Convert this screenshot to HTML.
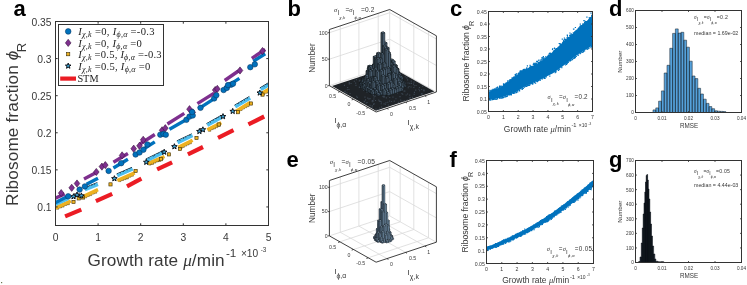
<!DOCTYPE html>
<html><head><meta charset="utf-8"><style>
html,body{margin:0;padding:0;background:#fff;width:747px;height:285px;overflow:hidden}
svg{display:block;will-change:transform}
.s{font-family:'Liberation Sans',sans-serif;fill:#383838}
.r{font-family:'Liberation Serif',serif;fill:#383838}
.b{font-family:'Liberation Sans',sans-serif;font-weight:bold;fill:#000}
.mc{fill:#0072BD;stroke:#0b3b66;stroke-width:.6}
.md{fill:#7E2F8E;stroke:#3b1442;stroke-width:.6}
.ms{fill:#EDB120;stroke:#3a2a00;stroke-width:.6}
.mt{fill:#3fa6d6;stroke:#050a10;stroke-width:.95;stroke-linejoin:miter}
.k{fill:#4c6072;stroke:#0e1114;stroke-width:.45}
.kl{fill:#3b4a57;stroke:#0e1114;stroke-width:.45}
.kt{fill:#5c7387;stroke:#0e1114;stroke-width:.45}
.e{fill:#6a859c;stroke:#151a1f;stroke-width:.35}
.el{fill:#4d6275;stroke:#151a1f;stroke-width:.35}
.et{fill:#8ea8bd;stroke:#151a1f;stroke-width:.35}
</style></head><body>
<svg width="747" height="285" viewBox="0 0 747 285">
<rect width="747" height="285" fill="#fff"/>
<text class="b" x="13.5" y="16" font-size="22">a</text>
<text class="b" x="287.5" y="15.8" font-size="22">b</text>
<text class="b" x="450" y="15.6" font-size="22">c</text>
<text class="b" x="609" y="15.8" font-size="22">d</text>
<text class="b" x="286.5" y="167.3" font-size="22">e</text>
<text class="b" x="449.5" y="166.6" font-size="22">f</text>
<text class="b" x="609" y="167.3" font-size="22">g</text>
<clipPath id="ca"><rect x="56" y="22" width="212" height="203"/></clipPath>
<g clip-path="url(#ca)">
<path d="M65.1 216.4L81.3 209.6M95.9 201.2L112.2 193.9M127 186.3L141.4 178.6M157.1 169.4L172.1 162.3M187.9 154.4L203 147M218 137.8L233.5 130.2M248.4 124.4L264.2 116.5" stroke="#EB1C24" stroke-width="4.2"/>
<path d="M54.2 202.8L67.4 196.7M84.2 187.9L97.3 182.6M116.6 174L132 167.3M145.7 159.1L163.2 150.6M176.8 140.9L191.8 133.8M206.4 123.7L220.4 115.8M234.4 105.3L249.3 96.5M259.8 88L268 83" stroke="#0d2233" stroke-width="1.0"/>
<path d="M56.4 206.8h2.4v2.4h-2.4zM59.1 205.5h2.4v2.4h-2.4zM61.7 204.7h2.4v2.4h-2.4zM64.3 203.1h2.4v2.4h-2.4zM67 202.3h2.4v2.4h-2.4zM84.4 195.4h2.4v2.4h-2.4zM86.9 194h2.4v2.4h-2.4zM89.3 193.2h2.4v2.4h-2.4zM91.8 191.7h2.4v2.4h-2.4zM94.3 190.8h2.4v2.4h-2.4zM118.6 179.2h2.4v2.4h-2.4zM121.1 178.1h2.4v2.4h-2.4zM123.6 177.2h2.4v2.4h-2.4zM126 176.5h2.4v2.4h-2.4zM128.5 174.8h2.4v2.4h-2.4zM131 173.8h2.4v2.4h-2.4zM148.6 162.7h2.4v2.4h-2.4zM151.1 162h2.4v2.4h-2.4zM153.5 160.7h2.4v2.4h-2.4zM156 159.5h2.4v2.4h-2.4zM158.4 159h2.4v2.4h-2.4zM160.9 157.2h2.4v2.4h-2.4zM179.6 146.6h2.4v2.4h-2.4zM181.9 145h2.4v2.4h-2.4zM184.3 143.7h2.4v2.4h-2.4zM186.7 142.5h2.4v2.4h-2.4zM189 141.4h2.4v2.4h-2.4zM208.4 128.9h2.4v2.4h-2.4zM210.8 127.2h2.4v2.4h-2.4zM213.1 126.4h2.4v2.4h-2.4zM215.4 125.2h2.4v2.4h-2.4zM217.8 123.9h2.4v2.4h-2.4zM237.3 110h2.4v2.4h-2.4zM239.7 108.1h2.4v2.4h-2.4zM242 106.6h2.4v2.4h-2.4zM244.3 105.3h2.4v2.4h-2.4zM246.7 104.2h2.4v2.4h-2.4zM262.3 92.4h2.4v2.4h-2.4zM265.1 90.8h2.4v2.4h-2.4z" fill="#EDB120" stroke="#3a2a00" stroke-width="0.45"/>
<path d="M55 208L70.8 201M83.1 196.6L98 189.6M117.3 180.5L134.7 172.8M147.4 163.5L164.5 156.5M178.4 147.4L192.6 140.3M207.3 129.7L221.3 122.7M236.2 111.3L250.2 102.5M260.8 94L269 89.2" stroke="#EDB120" stroke-width="3.5"/>
<path d="M55 204.5L68.2 198.4M84.9 189.6L98 184.3M117.3 175.7L132.7 169M146.5 160.8L164 152.3M177.6 142.6L192.6 135.5M207.3 125.3L221.3 117.4M235.3 106.9L250.2 98.1M260.8 89.6L269 84.6" stroke="#4DBEEE" stroke-width="3.4"/>
<path d="M57.9 201.8l0.6 -1.1l0.6 1.1zM60.9 200.4l0.6 -1.1l0.6 1.1zM63.9 199l0.6 -1.1l0.6 1.1zM88.2 186.9l0.6 -1.1l0.6 1.1zM91.2 185.7l0.6 -1.1l0.6 1.1zM93.6 184.7l0.6 -1.1l0.6 1.1zM119.9 173.2l0.6 -1.1l0.6 1.1zM122.9 171.9l0.6 -1.1l0.6 1.1zM126.6 170.3l0.6 -1.1l0.6 1.1zM129.4 169.1l0.6 -1.1l0.6 1.1zM148.4 158.5l0.6 -1.1l0.6 1.1zM152.6 156.5l0.6 -1.1l0.6 1.1zM154 155.8l0.6 -1.1l0.6 1.1zM157.4 154.1l0.6 -1.1l0.6 1.1zM160.9 152.4l0.6 -1.1l0.6 1.1zM179.4 140.4l0.6 -1.1l0.6 1.1zM183 138.7l0.6 -1.1l0.6 1.1zM185.2 137.6l0.6 -1.1l0.6 1.1zM189.3 135.7l0.6 -1.1l0.6 1.1zM209.9 122.4l0.6 -1.1l0.6 1.1zM212.4 121l0.6 -1.1l0.6 1.1zM215.7 119.1l0.6 -1.1l0.6 1.1zM217.6 118.1l0.6 -1.1l0.6 1.1zM238 103.8l0.6 -1.1l0.6 1.1zM240.8 102.2l0.6 -1.1l0.6 1.1zM243.8 100.4l0.6 -1.1l0.6 1.1zM246.5 98.8l0.6 -1.1l0.6 1.1zM263.5 86.5l0.6 -1.1l0.6 1.1zM266.4 84.7l0.6 -1.1l0.6 1.1z" fill="#0d2233"/>
<rect x="71.9" y="200.3" width="3.2" height="3.2" class="ms"/>
<rect x="77.1" y="196.8" width="3.2" height="3.2" class="ms"/>
<rect x="81.5" y="195.9" width="3.2" height="3.2" class="ms"/>
<rect x="108.9" y="182.8" width="3.2" height="3.2" class="ms"/>
<rect x="134" y="169.3" width="3.2" height="3.2" class="ms"/>
<rect x="159.4" y="157.6" width="3.2" height="3.2" class="ms"/>
<rect x="167.3" y="152.8" width="3.2" height="3.2" class="ms"/>
<rect x="178.4" y="147.3" width="3.2" height="3.2" class="ms"/>
<rect x="194.9" y="136.3" width="3.2" height="3.2" class="ms"/>
<rect x="217.1" y="122.9" width="3.2" height="3.2" class="ms"/>
<rect x="236.3" y="110.6" width="3.2" height="3.2" class="ms"/>
<rect x="249.4" y="101.9" width="3.2" height="3.2" class="ms"/>
<rect x="260.9" y="93" width="3.2" height="3.2" class="ms"/>
<path d="M73.5 193.7L74.2 195.6L76.3 195.7L74.7 197L75.2 198.9L73.5 197.8L71.8 198.9L72.3 197L70.7 195.7L72.8 195.6Z" class="mt"/>
<path d="M77 192L77.7 193.9L79.8 194L78.2 195.3L78.7 197.2L77 196.1L75.3 197.2L75.8 195.3L74.2 194L76.3 193.9Z" class="mt"/>
<path d="M81.4 192.9L82.1 194.8L84.2 194.9L82.6 196.2L83.1 198.1L81.4 197L79.7 198.1L80.2 196.2L78.6 194.9L80.7 194.8Z" class="mt"/>
<path d="M114.4 175.7L115.1 177.6L117.2 177.7L115.6 179L116.1 180.9L114.4 179.8L112.7 180.9L113.2 179L111.6 177.7L113.7 177.6Z" class="mt"/>
<path d="M146.3 159.3L147 161.2L149.1 161.3L147.5 162.6L148 164.5L146.3 163.4L144.6 164.5L145.1 162.6L143.5 161.3L145.6 161.2Z" class="mt"/>
<path d="M164.2 149.2L164.9 151.1L167 151.2L165.4 152.5L165.9 154.4L164.2 153.3L162.5 154.4L163 152.5L161.4 151.2L163.5 151.1Z" class="mt"/>
<path d="M174.4 143.7L175.1 145.6L177.2 145.7L175.6 147L176.1 148.9L174.4 147.8L172.7 148.9L173.2 147L171.6 145.7L173.7 145.6Z" class="mt"/>
<path d="M199.4 128.5L200.1 130.4L202.2 130.5L200.6 131.8L201.1 133.7L199.4 132.6L197.7 133.7L198.2 131.8L196.6 130.5L198.7 130.4Z" class="mt"/>
<path d="M202.9 126.8L203.6 128.7L205.7 128.8L204.1 130.1L204.6 132L202.9 130.9L201.2 132L201.7 130.1L200.1 128.8L202.2 128.7Z" class="mt"/>
<path d="M223 113.6L223.7 115.5L225.8 115.6L224.2 116.9L224.7 118.8L223 117.7L221.3 118.8L221.8 116.9L220.2 115.6L222.3 115.5Z" class="mt"/>
<path d="M232.7 108.4L233.4 110.3L235.5 110.4L233.9 111.7L234.4 113.6L232.7 112.5L231 113.6L231.5 111.7L229.9 110.4L232 110.3Z" class="mt"/>
<path d="M259.8 90L260.5 91.9L262.6 92L261 93.3L261.5 95.2L259.8 94.1L258.1 95.2L258.6 93.3L257 92L259.1 91.9Z" class="mt"/>
<path d="M55 202.8L67.3 196.6M86.6 184.3L98 178.2M113.4 168L127.9 159.3M143.2 149.3L154.8 141.9M169.5 129.2L184.3 120.8M198.4 108.9L213.1 99.4M224.7 87.9L239.4 78.4M253.3 61.3L265.2 53.8" stroke="#0072BD" stroke-width="3.4"/>
<path d="M55 198.4L64.7 194M84 179L97.2 172M113.4 162.2L127.9 153.5M140 144L154.8 134.5M167.4 124L184.3 113.4M197.4 103.6L214.2 93.1M224.7 80.5L238.4 71M251.8 58.3L265.2 49.4" stroke="#7E2F8E" stroke-width="3.4"/>
<path d="M61.2 189.5l2.8 3.6l-2.8 3.6l-2.8 -3.6z" class="md"/>
<path d="M71.7 184.2l2.8 3.6l-2.8 3.6l-2.8 -3.6z" class="md"/>
<path d="M77 179.9l2.8 3.6l-2.8 3.6l-2.8 -3.6z" class="md"/>
<path d="M96.3 168.4l2.8 3.6l-2.8 3.6l-2.8 -3.6z" class="md"/>
<path d="M101.9 163l2.8 3.6l-2.8 3.6l-2.8 -3.6z" class="md"/>
<path d="M105.3 161.5l2.8 3.6l-2.8 3.6l-2.8 -3.6z" class="md"/>
<path d="M122.1 151.8l2.8 3.6l-2.8 3.6l-2.8 -3.6z" class="md"/>
<path d="M133.7 145.1l2.8 3.6l-2.8 3.6l-2.8 -3.6z" class="md"/>
<path d="M139.5 142.2l2.8 3.6l-2.8 3.6l-2.8 -3.6z" class="md"/>
<path d="M143.2 136.2l2.8 3.6l-2.8 3.6l-2.8 -3.6z" class="md"/>
<path d="M162.1 126.7l2.8 3.6l-2.8 3.6l-2.8 -3.6z" class="md"/>
<path d="M165.3 124.6l2.8 3.6l-2.8 3.6l-2.8 -3.6z" class="md"/>
<path d="M189.5 105.6l2.8 3.6l-2.8 3.6l-2.8 -3.6z" class="md"/>
<path d="M192.7 108.8l2.8 3.6l-2.8 3.6l-2.8 -3.6z" class="md"/>
<path d="M215.2 86.4l2.8 3.6l-2.8 3.6l-2.8 -3.6z" class="md"/>
<path d="M217.3 85.3l2.8 3.6l-2.8 3.6l-2.8 -3.6z" class="md"/>
<path d="M240 66.9l2.8 3.6l-2.8 3.6l-2.8 -3.6z" class="md"/>
<path d="M262.5 47.4l2.8 3.6l-2.8 3.6l-2.8 -3.6z" class="md"/>
<circle cx="68.2" cy="196.3" r="2.75" class="mc"/>
<circle cx="79.6" cy="189.6" r="2.75" class="mc"/>
<circle cx="84.9" cy="186.4" r="2.75" class="mc"/>
<circle cx="108.6" cy="170.9" r="2.75" class="mc"/>
<circle cx="121.2" cy="163.2" r="2.75" class="mc"/>
<circle cx="135.6" cy="154.5" r="2.75" class="mc"/>
<circle cx="139.5" cy="152.5" r="2.75" class="mc"/>
<circle cx="143.4" cy="149.7" r="2.75" class="mc"/>
<circle cx="147.4" cy="144.5" r="2.75" class="mc"/>
<circle cx="160.3" cy="134.7" r="2.75" class="mc"/>
<circle cx="163.4" cy="133.9" r="2.75" class="mc"/>
<circle cx="165.8" cy="134.7" r="2.75" class="mc"/>
<circle cx="186.4" cy="119.8" r="2.75" class="mc"/>
<circle cx="189.5" cy="116.6" r="2.75" class="mc"/>
<circle cx="192.7" cy="115.5" r="2.75" class="mc"/>
<circle cx="192.1" cy="112" r="2.75" class="mc"/>
<circle cx="200.5" cy="107.8" r="2.75" class="mc"/>
<circle cx="214.2" cy="98.4" r="2.75" class="mc"/>
<circle cx="216.3" cy="95.2" r="2.75" class="mc"/>
<circle cx="223.6" cy="90" r="2.75" class="mc"/>
<circle cx="226.8" cy="87.9" r="2.75" class="mc"/>
<circle cx="231" cy="84.7" r="2.75" class="mc"/>
<circle cx="233" cy="83.7" r="2.75" class="mc"/>
<circle cx="228" cy="85.1" r="2.75" class="mc"/>
<circle cx="250.3" cy="67.2" r="2.75" class="mc"/>
<circle cx="254.8" cy="64.3" r="2.75" class="mc"/>
</g>
<rect x="55.5" y="21.5" width="213" height="204" fill="none" stroke="#333333"/>
<path d="M55.5 225.5v-2.2M55.5 21.5v2.2M98.1 225.5v-2.2M98.1 21.5v2.2M140.7 225.5v-2.2M140.7 21.5v2.2M183.3 225.5v-2.2M183.3 21.5v2.2M225.9 225.5v-2.2M225.9 21.5v2.2M268.5 225.5v-2.2M268.5 21.5v2.2M55.5 206.95h2.2M268.5 206.95h-2.2M55.5 169.86h2.2M268.5 169.86h-2.2M55.5 132.77h2.2M268.5 132.77h-2.2M55.5 95.68h2.2M268.5 95.68h-2.2M55.5 58.59h2.2M268.5 58.59h-2.2M55.5 21.5h2.2M268.5 21.5h-2.2" stroke="#333333" stroke-width="1"/>
<text class="s" x="55.5" y="240.7" font-size="10.3" text-anchor="middle">0</text>
<text class="s" x="98.1" y="240.7" font-size="10.3" text-anchor="middle">1</text>
<text class="s" x="140.7" y="240.7" font-size="10.3" text-anchor="middle">2</text>
<text class="s" x="183.3" y="240.7" font-size="10.3" text-anchor="middle">3</text>
<text class="s" x="225.9" y="240.7" font-size="10.3" text-anchor="middle">4</text>
<text class="s" x="268.5" y="240.7" font-size="10.3" text-anchor="middle">5</text>
<text class="s" x="51.5" y="211.28" font-size="10.3" text-anchor="end">0.1</text>
<text class="s" x="51.5" y="174.19" font-size="10.3" text-anchor="end">0.15</text>
<text class="s" x="51.5" y="137.1" font-size="10.3" text-anchor="end">0.2</text>
<text class="s" x="51.5" y="100.01" font-size="10.3" text-anchor="end">0.25</text>
<text class="s" x="51.5" y="62.92" font-size="10.3" text-anchor="end">0.3</text>
<text class="s" x="51.5" y="25.83" font-size="10.3" text-anchor="end">0.35</text>
<rect x="58.5" y="24.5" width="105" height="61" fill="#fff" stroke="#333333"/>
<circle cx="68.2" cy="31.4" r="2.8" class="mc"/>
<path d="M68.2 39.3l2.8 3.6l-2.8 3.6l-2.8 -3.6z" class="md"/>
<rect x="66.6" y="52.6" width="3.2" height="3.2" class="ms"/>
<path d="M68.2 63.1L68.9 65L71 65.1L69.4 66.4L69.9 68.3L68.2 67.2L66.5 68.3L67 66.4L65.4 65.1L67.5 65Z" class="mt"/>
<path d="M60.2 78.6L76 78.6" stroke="#EB1C24" stroke-width="4.2"/>
<text class="r" x="78.2" y="35" font-size="10.6" textLength="76.3" style="fill:#1c1c1c"><tspan font-style="italic">I</tspan><tspan font-size="8" dy="2.2" font-style="italic">χ,k</tspan><tspan dy="-2.2"> =</tspan>0, <tspan font-style="italic">I</tspan><tspan font-size="8" dy="2.2" font-style="italic">ϕ,α</tspan><tspan dy="-2.2"> =</tspan>-0.3</text>
<text class="r" x="78.2" y="46.5" font-size="10.6" textLength="63.6" style="fill:#1c1c1c"><tspan font-style="italic">I</tspan><tspan font-size="8" dy="2.2" font-style="italic">χ,k</tspan><tspan dy="-2.2"> =</tspan>0, <tspan font-style="italic">I</tspan><tspan font-size="8" dy="2.2" font-style="italic">ϕ,α</tspan><tspan dy="-2.2"> =</tspan>0</text>
<text class="r" x="78.2" y="57.8" font-size="10.6" textLength="83.4" style="fill:#1c1c1c"><tspan font-style="italic">I</tspan><tspan font-size="8" dy="2.2" font-style="italic">χ,k</tspan><tspan dy="-2.2"> =</tspan>0.5, <tspan font-style="italic">I</tspan><tspan font-size="8" dy="2.2" font-style="italic">ϕ,α</tspan><tspan dy="-2.2"> =</tspan>-0.3</text>
<text class="r" x="78.2" y="69.6" font-size="10.6" textLength="72" style="fill:#1c1c1c"><tspan font-style="italic">I</tspan><tspan font-size="8" dy="2.2" font-style="italic">χ,k</tspan><tspan dy="-2.2"> =</tspan>0.5, <tspan font-style="italic">I</tspan><tspan font-size="8" dy="2.2" font-style="italic">ϕ,α</tspan><tspan dy="-2.2"> =</tspan>0</text>
<text class="r" x="77.4" y="81.5" font-size="10.3" style="fill:#1c1c1c">STM</text>
<text class="s" transform="translate(17.6,205.9) rotate(-90)" font-size="17.2" textLength="163">Ribosome fraction <tspan font-style="italic">ϕ</tspan><tspan font-size="13" dy="8.2" dx="-1.8">R</tspan></text>
<text class="s" x="87.5" y="266" font-size="17.2" textLength="137.1">Growth rate <tspan class="r" font-style="italic">μ</tspan>/min</text>
<text class="s" x="225.9" y="256.6" font-size="11.7">-1</text>
<text class="s" x="240.9" y="256.6" font-size="10.2">×10</text>
<text class="s" x="260.7" y="252.4" font-size="6.3">-3</text>
<clipPath id="cc"><rect x="489.0" y="12.0" width="103.0" height="99.0"/></clipPath>
<g clip-path="url(#cc)">
<path d="M488 92.3L500.8 87.2L515.5 76.5L520 72.8L527 68.5L534 65.5L541 61.3L548 55.8L555 50L563 42L571 35.5L579 27.6L587 21.2L593 14.5L593 45.5L590 47L577 55L565 64.5L553 73.2L539 80.2L525 86.5L515.5 92.5L500.8 97.8L488 100.3Z" fill="#0072BD" stroke="none" stroke-width="1"/>
<path d="M537.8 62.1h1.2v1.2h-1.2zM561.7 38.6h1.2v1.2h-1.2zM574.3 31.2h1.2v1.2h-1.2zM490.4 90.5h1.2v1.2h-1.2zM505.6 82.2h1.2v1.2h-1.2zM501.6 86.1h1.2v1.2h-1.2zM529 84.4h1.2v1.2h-1.2zM545.7 76.3h1.2v1.2h-1.2zM574 56.6h1.2v1.2h-1.2zM525.7 85.9h1.2v1.2h-1.2zM588.6 19.2h1.2v1.2h-1.2zM512.5 78.1h1.2v1.2h-1.2zM549.9 53.3h1.2v1.2h-1.2zM526.8 65.3h1.2v1.2h-1.2zM560.5 44.5h1.2v1.2h-1.2zM552.8 50.6h1.2v1.2h-1.2zM582.5 51.5h1.2v1.2h-1.2zM529.2 66.4h1.2v1.2h-1.2zM498.9 86.9h1.2v1.2h-1.2zM495.1 89.1h1.2v1.2h-1.2zM493.5 89.4h1.2v1.2h-1.2zM503.9 84.8h1.2v1.2h-1.2zM579.8 25.3h1.2v1.2h-1.2zM514.5 77.1h1.2v1.2h-1.2zM526.2 67.3h1.2v1.2h-1.2zM536.9 61.4h1.2v1.2h-1.2zM497 88.3h1.2v1.2h-1.2zM575 30.9h1.2v1.2h-1.2zM490.4 99.3h1.2v1.2h-1.2zM545 58h1.2v1.2h-1.2zM543.5 77.7h1.2v1.2h-1.2zM515.4 75.5h1.2v1.2h-1.2zM505.5 96.1h1.2v1.2h-1.2zM522.6 70.9h1.2v1.2h-1.2zM573.2 57.7h1.2v1.2h-1.2zM573.9 57.4h1.2v1.2h-1.2zM511.8 79.1h1.2v1.2h-1.2zM490.9 91h1.2v1.2h-1.2zM515.2 73.8h1.2v1.2h-1.2zM535 82.5h1.2v1.2h-1.2zM526.3 68.8h1.2v1.2h-1.2zM511.8 78.8h1.2v1.2h-1.2zM582.5 51.5h1.2v1.2h-1.2zM538.3 59.6h1.2v1.2h-1.2zM496.9 86.5h1.2v1.2h-1.2zM570.1 59.9h1.2v1.2h-1.2zM570.9 35.5h1.2v1.2h-1.2zM572.1 58.5h1.2v1.2h-1.2zM587.4 48.1h1.2v1.2h-1.2zM505.9 82.4h1.2v1.2h-1.2zM572.7 32.3h1.2v1.2h-1.2zM574.8 56.2h1.2v1.2h-1.2zM545.6 57h1.2v1.2h-1.2zM489.5 99.6h1.2v1.2h-1.2zM586 21.1h1.2v1.2h-1.2zM579.5 52.7h1.2v1.2h-1.2zM518.8 73.2h1.2v1.2h-1.2zM549.6 54.1h1.2v1.2h-1.2zM583.6 23.7h1.2v1.2h-1.2zM536.1 60.7h1.2v1.2h-1.2zM532.2 83.1h1.2v1.2h-1.2zM543 59.7h1.2v1.2h-1.2zM534.2 63.8h1.2v1.2h-1.2zM506.1 83.3h1.2v1.2h-1.2zM564.1 38.8h1.2v1.2h-1.2zM542.4 56.8h1.2v1.2h-1.2zM499.1 86.5h1.2v1.2h-1.2zM517.1 91.3h1.2v1.2h-1.2zM567.8 61.5h1.2v1.2h-1.2zM534.5 62.8h1.2v1.2h-1.2zM541.8 58.3h1.2v1.2h-1.2zM544 57.6h1.2v1.2h-1.2zM580 52.6h1.2v1.2h-1.2zM515.3 73.8h1.2v1.2h-1.2zM576.2 29.7h1.2v1.2h-1.2zM495.6 88.6h1.2v1.2h-1.2zM495.7 87.2h1.2v1.2h-1.2zM582.2 24.8h1.2v1.2h-1.2zM503 96.9h1.2v1.2h-1.2zM589.6 17.4h1.2v1.2h-1.2zM539.2 79.5h1.2v1.2h-1.2zM575.4 30.2h1.2v1.2h-1.2zM523.6 70.1h1.2v1.2h-1.2zM521.4 88.6h1.2v1.2h-1.2zM534.2 65.2h1.2v1.2h-1.2zM522.8 68.9h1.2v1.2h-1.2zM494.8 98.5h1.2v1.2h-1.2zM499 85.6h1.2v1.2h-1.2zM492.2 98.7h1.2v1.2h-1.2zM532.3 82.7h1.2v1.2h-1.2zM574 31.4h1.2v1.2h-1.2zM547.9 54.6h1.2v1.2h-1.2zM494 88.4h1.2v1.2h-1.2zM495.6 98.9h1.2v1.2h-1.2zM554.6 72.1h1.2v1.2h-1.2zM495 98.6h1.2v1.2h-1.2zM535.6 62.6h1.2v1.2h-1.2zM516.1 75.3h1.2v1.2h-1.2zM543.3 59.1h1.2v1.2h-1.2zM493.3 89.9h1.2v1.2h-1.2zM520.8 72.3h1.2v1.2h-1.2zM540.5 60.9h1.2v1.2h-1.2zM524.4 70.1h1.2v1.2h-1.2zM565 38.7h1.2v1.2h-1.2zM537.8 80h1.2v1.2h-1.2zM499.2 97.9h1.2v1.2h-1.2zM575.6 30.5h1.2v1.2h-1.2zM541.2 57.2h1.2v1.2h-1.2zM524 86.5h1.2v1.2h-1.2zM530.5 65.8h1.2v1.2h-1.2zM493.7 88.7h1.2v1.2h-1.2zM514.8 76.3h1.2v1.2h-1.2zM496.9 98.3h1.2v1.2h-1.2zM517.6 73.8h1.2v1.2h-1.2zM518.8 73.3h1.2v1.2h-1.2zM515.6 92.1h1.2v1.2h-1.2zM590.1 17.6h1.2v1.2h-1.2zM520.5 70.2h1.2v1.2h-1.2zM488.1 91.2h1.2v1.2h-1.2zM509.1 81h1.2v1.2h-1.2zM488.5 91.3h1.2v1.2h-1.2zM492.4 90.1h1.2v1.2h-1.2zM519.9 71.9h1.2v1.2h-1.2zM566.8 35h1.2v1.2h-1.2zM580.3 26h1.2v1.2h-1.2zM522.2 87.9h1.2v1.2h-1.2zM555.5 48.3h1.2v1.2h-1.2zM575.7 55.8h1.2v1.2h-1.2zM573.3 32.2h1.2v1.2h-1.2zM543 58.9h1.2v1.2h-1.2zM574.8 26.9h1.2v1.2h-1.2zM559.7 43.4h1.2v1.2h-1.2zM491.3 89.6h1.2v1.2h-1.2zM525.9 68.6h1.2v1.2h-1.2zM553.9 47.5h1.2v1.2h-1.2zM539.4 61.3h1.2v1.2h-1.2zM571.8 59h1.2v1.2h-1.2zM557.2 47.8h1.2v1.2h-1.2zM565.4 39.4h1.2v1.2h-1.2zM564.6 40.4h1.2v1.2h-1.2zM565.7 63.7h1.2v1.2h-1.2zM538.3 59.7h1.2v1.2h-1.2zM552.8 50.6h1.2v1.2h-1.2zM503.5 85.2h1.2v1.2h-1.2zM566 39.4h1.2v1.2h-1.2zM494.4 89.7h1.2v1.2h-1.2zM558.6 42.9h1.2v1.2h-1.2zM518.5 73h1.2v1.2h-1.2zM500.4 97.2h1.2v1.2h-1.2zM508.9 94.2h1.2v1.2h-1.2zM536.2 80.7h1.2v1.2h-1.2zM589.7 18.2h1.2v1.2h-1.2zM587.3 20.3h1.2v1.2h-1.2zM549.1 52.7h1.2v1.2h-1.2zM501.9 96.8h1.2v1.2h-1.2zM541.4 78.3h1.2v1.2h-1.2zM582.3 24.4h1.2v1.2h-1.2zM490.6 90.3h1.2v1.2h-1.2zM519.7 73h1.2v1.2h-1.2zM524.1 70.2h1.2v1.2h-1.2zM566.8 62.3h1.2v1.2h-1.2zM500.6 97.3h1.2v1.2h-1.2zM518.4 72.2h1.2v1.2h-1.2zM529.3 84.2h1.2v1.2h-1.2zM532.9 65.5h1.2v1.2h-1.2zM493.1 89.9h1.2v1.2h-1.2zM586.2 21.2h1.2v1.2h-1.2zM515.9 75.8h1.2v1.2h-1.2zM588.4 47.6h1.2v1.2h-1.2zM573.3 28.4h1.2v1.2h-1.2zM586.8 21.3h1.2v1.2h-1.2zM564.9 40.2h1.2v1.2h-1.2zM567 36.6h1.2v1.2h-1.2zM493.1 98.9h1.2v1.2h-1.2zM524.1 69.6h1.2v1.2h-1.2zM565.6 63.3h1.2v1.2h-1.2zM519.6 71.3h1.2v1.2h-1.2zM505.6 82.4h1.2v1.2h-1.2zM509.8 94.1h1.2v1.2h-1.2zM583.2 50.4h1.2v1.2h-1.2zM535.2 64.6h1.2v1.2h-1.2zM523.9 70h1.2v1.2h-1.2zM513.1 76.5h1.2v1.2h-1.2zM566.7 38.2h1.2v1.2h-1.2zM531.5 66h1.2v1.2h-1.2zM494.5 89.1h1.2v1.2h-1.2zM589.6 17h1.2v1.2h-1.2zM578.6 28h1.2v1.2h-1.2zM516.5 74.9h1.2v1.2h-1.2zM588.2 47.6h1.2v1.2h-1.2zM579.7 25.7h1.2v1.2h-1.2zM582 24.9h1.2v1.2h-1.2zM549.7 52.8h1.2v1.2h-1.2zM574.7 56.8h1.2v1.2h-1.2zM590.1 17.4h1.2v1.2h-1.2zM542.8 55.9h1.2v1.2h-1.2zM563.8 37.4h1.2v1.2h-1.2zM536 63.2h1.2v1.2h-1.2zM570.1 35.9h1.2v1.2h-1.2zM584.6 20.7h1.2v1.2h-1.2zM501.4 85.8h1.2v1.2h-1.2zM499.8 86.6h1.2v1.2h-1.2zM543.1 57.5h1.2v1.2h-1.2zM511.5 78.4h1.2v1.2h-1.2zM519.7 71.8h1.2v1.2h-1.2zM580.8 25.8h1.2v1.2h-1.2zM512.7 77.2h1.2v1.2h-1.2zM520.3 72.3h1.2v1.2h-1.2zM540.3 59.4h1.2v1.2h-1.2zM515 74h1.2v1.2h-1.2zM511.8 78.7h1.2v1.2h-1.2zM559.7 44.5h1.2v1.2h-1.2zM571.7 58.7h1.2v1.2h-1.2zM589.8 18h1.2v1.2h-1.2zM574.1 32.2h1.2v1.2h-1.2zM519 90.3h1.2v1.2h-1.2zM540.1 61.7h1.2v1.2h-1.2zM557.9 69.4h1.2v1.2h-1.2zM503.4 84.8h1.2v1.2h-1.2zM502.9 83.3h1.2v1.2h-1.2zM494.3 88.3h1.2v1.2h-1.2zM564.9 64.4h1.2v1.2h-1.2zM585.8 21.3h1.2v1.2h-1.2zM566.4 37.3h1.2v1.2h-1.2zM557.8 46.7h1.2v1.2h-1.2zM505.8 83h1.2v1.2h-1.2zM517.4 74.5h1.2v1.2h-1.2zM589.2 18.6h1.2v1.2h-1.2zM525.4 85.7h1.2v1.2h-1.2zM493.2 89.4h1.2v1.2h-1.2zM527.1 84.9h1.2v1.2h-1.2zM582.2 24.3h1.2v1.2h-1.2zM531.1 83h1.2v1.2h-1.2zM491.7 90.6h1.2v1.2h-1.2zM584.6 23.1h1.2v1.2h-1.2zM523.6 68.7h1.2v1.2h-1.2zM588.6 17.2h1.2v1.2h-1.2zM563.2 41.8h1.2v1.2h-1.2zM567.3 61.9h1.2v1.2h-1.2zM554.6 71.6h1.2v1.2h-1.2zM537.9 80h1.2v1.2h-1.2zM588.2 19.9h1.2v1.2h-1.2zM539.8 79.5h1.2v1.2h-1.2zM507.2 94.8h1.2v1.2h-1.2zM569.1 34.7h1.2v1.2h-1.2zM521.6 70.2h1.2v1.2h-1.2zM570.1 35.7h1.2v1.2h-1.2zM514 76.2h1.2v1.2h-1.2zM491.6 89.5h1.2v1.2h-1.2zM590.9 46.1h1.2v1.2h-1.2zM496.8 88.7h1.2v1.2h-1.2zM540.3 59.4h1.2v1.2h-1.2zM512.6 77.6h1.2v1.2h-1.2zM566.5 63h1.2v1.2h-1.2zM557.8 46.8h1.2v1.2h-1.2zM547.5 55.5h1.2v1.2h-1.2zM565.5 40h1.2v1.2h-1.2zM504.1 96.2h1.2v1.2h-1.2zM548.7 53h1.2v1.2h-1.2zM541.3 59.4h1.2v1.2h-1.2zM572.9 28.4h1.2v1.2h-1.2zM498.7 87.3h1.2v1.2h-1.2zM584 22h1.2v1.2h-1.2zM518.8 72.9h1.2v1.2h-1.2zM549.2 75.5h1.2v1.2h-1.2zM527.1 85.1h1.2v1.2h-1.2zM569.7 60.1h1.2v1.2h-1.2zM499.1 86h1.2v1.2h-1.2zM510.9 79.5h1.2v1.2h-1.2zM514.8 74.7h1.2v1.2h-1.2zM509.4 80.5h1.2v1.2h-1.2zM522.4 69.9h1.2v1.2h-1.2zM520.8 72h1.2v1.2h-1.2zM494.6 88.6h1.2v1.2h-1.2zM529.5 64.8h1.2v1.2h-1.2zM497.6 88.2h1.2v1.2h-1.2zM517.7 73.8h1.2v1.2h-1.2zM588.1 19.2h1.2v1.2h-1.2zM531.7 82.9h1.2v1.2h-1.2zM592.6 14.4h1.2v1.2h-1.2zM509.4 79.6h1.2v1.2h-1.2zM582.7 24.3h1.2v1.2h-1.2zM580.7 25.4h1.2v1.2h-1.2zM505.1 82.9h1.2v1.2h-1.2zM583.5 23.6h1.2v1.2h-1.2zM553.3 50.9h1.2v1.2h-1.2zM517.7 74.6h1.2v1.2h-1.2zM585.2 21h1.2v1.2h-1.2zM589.5 18.3h1.2v1.2h-1.2zM501.3 97.4h1.2v1.2h-1.2zM493.6 98.5h1.2v1.2h-1.2zM528.7 84.7h1.2v1.2h-1.2zM504.8 96.2h1.2v1.2h-1.2zM511.3 78.6h1.2v1.2h-1.2zM507.2 81.1h1.2v1.2h-1.2zM530 66.9h1.2v1.2h-1.2zM513.9 92.4h1.2v1.2h-1.2zM582.2 23.6h1.2v1.2h-1.2zM492 99h1.2v1.2h-1.2zM500.4 85.6h1.2v1.2h-1.2zM553.8 49.9h1.2v1.2h-1.2zM532.7 63.8h1.2v1.2h-1.2zM534 64.9h1.2v1.2h-1.2zM553 51.5h1.2v1.2h-1.2zM569.9 34.9h1.2v1.2h-1.2zM506.9 82.4h1.2v1.2h-1.2zM533.2 65.5h1.2v1.2h-1.2zM534.4 64h1.2v1.2h-1.2zM496.6 98h1.2v1.2h-1.2zM569.7 35.6h1.2v1.2h-1.2zM527.7 84.7h1.2v1.2h-1.2zM502.3 97.3h1.2v1.2h-1.2zM573.6 32.9h1.2v1.2h-1.2zM591.1 14.7h1.2v1.2h-1.2zM505.3 95.7h1.2v1.2h-1.2zM585.7 21.3h1.2v1.2h-1.2zM504.7 96.3h1.2v1.2h-1.2zM516.9 91.2h1.2v1.2h-1.2zM584.6 22.3h1.2v1.2h-1.2zM515.6 76.3h1.2v1.2h-1.2zM507.1 82.4h1.2v1.2h-1.2zM586.3 16.5h1.2v1.2h-1.2zM505.7 95.7h1.2v1.2h-1.2zM554.8 49.4h1.2v1.2h-1.2zM579.7 23.5h1.2v1.2h-1.2zM580.7 25h1.2v1.2h-1.2zM529.4 83.8h1.2v1.2h-1.2zM515.8 91.9h1.2v1.2h-1.2zM568.3 37.3h1.2v1.2h-1.2zM506.6 95.8h1.2v1.2h-1.2zM514.6 74.1h1.2v1.2h-1.2zM549.5 52.5h1.2v1.2h-1.2zM488.2 91.7h1.2v1.2h-1.2zM503.7 83.4h1.2v1.2h-1.2zM541.8 78.2h1.2v1.2h-1.2zM556.6 47.9h1.2v1.2h-1.2zM488.3 91.5h1.2v1.2h-1.2zM511.5 77.3h1.2v1.2h-1.2zM509.4 79h1.2v1.2h-1.2zM502.1 96.8h1.2v1.2h-1.2zM513.6 76.8h1.2v1.2h-1.2zM579.5 53.1h1.2v1.2h-1.2zM530.2 65.8h1.2v1.2h-1.2zM547 56.5h1.2v1.2h-1.2zM555.8 47.9h1.2v1.2h-1.2zM514.1 92.5h1.2v1.2h-1.2zM492.6 89.9h1.2v1.2h-1.2zM494.1 98.5h1.2v1.2h-1.2zM489.3 89.8h1.2v1.2h-1.2zM502.9 84.8h1.2v1.2h-1.2zM555.4 71.1h1.2v1.2h-1.2zM506.3 83.1h1.2v1.2h-1.2zM581.4 51.7h1.2v1.2h-1.2zM563.1 41.1h1.2v1.2h-1.2zM536.9 81.1h1.2v1.2h-1.2zM535.5 64.1h1.2v1.2h-1.2zM492.1 90.3h1.2v1.2h-1.2zM566.7 34.6h1.2v1.2h-1.2zM562.7 41.4h1.2v1.2h-1.2zM570.8 35.4h1.2v1.2h-1.2zM515.9 73.2h1.2v1.2h-1.2zM510.8 93.8h1.2v1.2h-1.2zM512.8 92.7h1.2v1.2h-1.2zM587.2 48.4h1.2v1.2h-1.2zM522.5 69.6h1.2v1.2h-1.2zM583.3 20h1.2v1.2h-1.2zM557.8 69.8h1.2v1.2h-1.2zM561.2 66.6h1.2v1.2h-1.2zM533.9 82.1h1.2v1.2h-1.2zM510.3 79.2h1.2v1.2h-1.2zM583.6 23.6h1.2v1.2h-1.2zM490.8 90.4h1.2v1.2h-1.2zM502.9 85.3h1.2v1.2h-1.2zM492.4 88.8h1.2v1.2h-1.2zM561.2 67.1h1.2v1.2h-1.2zM526.2 85.4h1.2v1.2h-1.2zM574.1 57.5h1.2v1.2h-1.2zM584 50.3h1.2v1.2h-1.2zM499.2 87.6h1.2v1.2h-1.2zM577 54.3h1.2v1.2h-1.2zM554.6 71.5h1.2v1.2h-1.2zM498.5 87.6h1.2v1.2h-1.2zM567.5 37.9h1.2v1.2h-1.2zM490.2 90.6h1.2v1.2h-1.2zM517.7 72.9h1.2v1.2h-1.2zM521.7 88.8h1.2v1.2h-1.2zM552.9 51.7h1.2v1.2h-1.2zM531.4 66.5h1.2v1.2h-1.2zM562 42.2h1.2v1.2h-1.2zM510.7 94.2h1.2v1.2h-1.2zM505.9 82.6h1.2v1.2h-1.2zM509.2 94h1.2v1.2h-1.2zM539.5 62.2h1.2v1.2h-1.2zM571.7 34h1.2v1.2h-1.2zM575.3 31.2h1.2v1.2h-1.2zM587.1 20.8h1.2v1.2h-1.2zM540.3 60.3h1.2v1.2h-1.2zM554.8 49.8h1.2v1.2h-1.2zM570.6 33.3h1.2v1.2h-1.2zM530.1 65.8h1.2v1.2h-1.2zM581.5 25.5h1.2v1.2h-1.2zM509.6 80.6h1.2v1.2h-1.2zM582.6 23.3h1.2v1.2h-1.2zM512.5 77.4h1.2v1.2h-1.2zM543.8 77h1.2v1.2h-1.2zM524.6 68.7h1.2v1.2h-1.2zM504.3 96.2h1.2v1.2h-1.2zM505.8 82.3h1.2v1.2h-1.2zM569.2 35.4h1.2v1.2h-1.2zM536.5 80.5h1.2v1.2h-1.2zM519.7 70.2h1.2v1.2h-1.2zM504.2 84.1h1.2v1.2h-1.2zM514 77.1h1.2v1.2h-1.2zM522.4 71.2h1.2v1.2h-1.2zM590.4 47h1.2v1.2h-1.2zM498.7 86.7h1.2v1.2h-1.2zM591.3 45.6h1.2v1.2h-1.2zM508.6 80.3h1.2v1.2h-1.2zM509.7 79.8h1.2v1.2h-1.2zM491.6 90.5h1.2v1.2h-1.2zM540.6 59.2h1.2v1.2h-1.2zM502.9 84h1.2v1.2h-1.2zM565.8 63.8h1.2v1.2h-1.2zM533.2 62.8h1.2v1.2h-1.2zM532.2 65.9h1.2v1.2h-1.2zM569.3 32.4h1.2v1.2h-1.2zM559.4 43h1.2v1.2h-1.2zM520.9 71h1.2v1.2h-1.2zM532.1 83.5h1.2v1.2h-1.2zM562.9 40.2h1.2v1.2h-1.2zM532.5 65.5h1.2v1.2h-1.2zM558.9 68.5h1.2v1.2h-1.2zM507.2 80.2h1.2v1.2h-1.2zM528.8 67.5h1.2v1.2h-1.2zM545.1 58.1h1.2v1.2h-1.2zM570.1 59.9h1.2v1.2h-1.2zM548.3 55.5h1.2v1.2h-1.2zM563.3 40.7h1.2v1.2h-1.2zM542.8 58.6h1.2v1.2h-1.2zM587.5 20.2h1.2v1.2h-1.2zM568.1 37h1.2v1.2h-1.2zM591.4 15.6h1.2v1.2h-1.2zM530 67h1.2v1.2h-1.2zM532 66.1h1.2v1.2h-1.2zM515.8 75.4h1.2v1.2h-1.2zM565.9 63.4h1.2v1.2h-1.2zM572.2 34.3h1.2v1.2h-1.2zM510.3 80h1.2v1.2h-1.2zM554.6 48.7h1.2v1.2h-1.2zM547 55.8h1.2v1.2h-1.2zM555.1 71h1.2v1.2h-1.2zM573.7 32.5h1.2v1.2h-1.2zM501.1 97.5h1.2v1.2h-1.2zM525.2 85.6h1.2v1.2h-1.2zM514.6 76.3h1.2v1.2h-1.2zM507.5 82.2h1.2v1.2h-1.2zM513.7 77.1h1.2v1.2h-1.2zM538.4 62h1.2v1.2h-1.2zM526.1 85.8h1.2v1.2h-1.2zM577.7 27.9h1.2v1.2h-1.2zM570.3 34.3h1.2v1.2h-1.2zM575.3 30.2h1.2v1.2h-1.2zM489.2 99.5h1.2v1.2h-1.2zM498.7 87.5h1.2v1.2h-1.2zM512.5 92.9h1.2v1.2h-1.2zM582.9 50.8h1.2v1.2h-1.2zM505.6 95.9h1.2v1.2h-1.2zM558.2 69.2h1.2v1.2h-1.2zM570.7 59.4h1.2v1.2h-1.2zM543.7 77.8h1.2v1.2h-1.2zM534.1 82h1.2v1.2h-1.2zM512.6 78.4h1.2v1.2h-1.2zM539.8 61.5h1.2v1.2h-1.2zM539.6 62h1.2v1.2h-1.2zM544.7 77.5h1.2v1.2h-1.2zM537.1 60.7h1.2v1.2h-1.2zM576.3 30.2h1.2v1.2h-1.2zM532 83.2h1.2v1.2h-1.2zM554.8 49.6h1.2v1.2h-1.2zM552 48.3h1.2v1.2h-1.2zM522.7 87.7h1.2v1.2h-1.2zM582.2 24.9h1.2v1.2h-1.2zM563.4 39.4h1.2v1.2h-1.2zM578.5 27h1.2v1.2h-1.2zM568.9 37h1.2v1.2h-1.2zM533.7 64h1.2v1.2h-1.2zM518.8 90h1.2v1.2h-1.2zM530.4 66.9h1.2v1.2h-1.2zM590.4 12.6h1.2v1.2h-1.2zM522.7 70.1h1.2v1.2h-1.2zM519.4 70.9h1.2v1.2h-1.2zM570.3 35.7h1.2v1.2h-1.2zM545.3 56.1h1.2v1.2h-1.2zM519.5 72.4h1.2v1.2h-1.2zM551.9 48.8h1.2v1.2h-1.2zM583.5 20.1h1.2v1.2h-1.2zM553.8 47.9h1.2v1.2h-1.2zM559.5 43.6h1.2v1.2h-1.2zM558 46.9h1.2v1.2h-1.2zM507 82.2h1.2v1.2h-1.2zM569.3 60.5h1.2v1.2h-1.2zM574.4 56.7h1.2v1.2h-1.2zM547 56.3h1.2v1.2h-1.2zM521.4 71h1.2v1.2h-1.2zM555.4 71.3h1.2v1.2h-1.2zM492.1 90.3h1.2v1.2h-1.2zM573.1 28.5h1.2v1.2h-1.2zM534.9 64.1h1.2v1.2h-1.2zM586.5 48.8h1.2v1.2h-1.2zM537.9 62.1h1.2v1.2h-1.2zM510.3 79.5h1.2v1.2h-1.2zM489.6 91.5h1.2v1.2h-1.2zM589.5 18h1.2v1.2h-1.2zM579.3 25.9h1.2v1.2h-1.2zM513.4 92.5h1.2v1.2h-1.2zM507.7 82h1.2v1.2h-1.2zM577.8 54.5h1.2v1.2h-1.2zM496.9 86.8h1.2v1.2h-1.2zM536.4 80.6h1.2v1.2h-1.2zM563.3 39.4h1.2v1.2h-1.2z" fill="#0072BD"/>
</g>
<rect x="488.5" y="11.5" width="104" height="100" fill="none" stroke="#333333"/>
<path d="M488.5 111.5v-1.3M488.5 11.5v1.3M503.36 111.5v-1.3M503.36 11.5v1.3M518.21 111.5v-1.3M518.21 11.5v1.3M533.07 111.5v-1.3M533.07 11.5v1.3M547.93 111.5v-1.3M547.93 11.5v1.3M562.79 111.5v-1.3M562.79 11.5v1.3M577.64 111.5v-1.3M577.64 11.5v1.3M592.5 111.5v-1.3M592.5 11.5v1.3M488.5 111.5h1.3M592.5 111.5h-1.3M488.5 99h1.3M592.5 99h-1.3M488.5 86.5h1.3M592.5 86.5h-1.3M488.5 74h1.3M592.5 74h-1.3M488.5 61.5h1.3M592.5 61.5h-1.3M488.5 49h1.3M592.5 49h-1.3M488.5 36.5h1.3M592.5 36.5h-1.3M488.5 24h1.3M592.5 24h-1.3M488.5 11.5h1.3M592.5 11.5h-1.3" stroke="#333333" stroke-width="1"/>
<text class="s" x="488.5" y="118.8" font-size="5.2" text-anchor="middle">0</text>
<text class="s" x="503.36" y="118.8" font-size="5.2" text-anchor="middle">1</text>
<text class="s" x="518.21" y="118.8" font-size="5.2" text-anchor="middle">2</text>
<text class="s" x="533.07" y="118.8" font-size="5.2" text-anchor="middle">3</text>
<text class="s" x="547.93" y="118.8" font-size="5.2" text-anchor="middle">4</text>
<text class="s" x="562.79" y="118.8" font-size="5.2" text-anchor="middle">5</text>
<text class="s" x="577.64" y="118.8" font-size="5.2" text-anchor="middle">6</text>
<text class="s" x="592.5" y="118.8" font-size="5.2" text-anchor="middle">7</text>
<text class="s" x="486.9" y="113.68" font-size="5.2" text-anchor="end">0.05</text>
<text class="s" x="486.9" y="101.18" font-size="5.2" text-anchor="end">0.1</text>
<text class="s" x="486.9" y="88.68" font-size="5.2" text-anchor="end">0.15</text>
<text class="s" x="486.9" y="76.18" font-size="5.2" text-anchor="end">0.2</text>
<text class="s" x="486.9" y="63.68" font-size="5.2" text-anchor="end">0.25</text>
<text class="s" x="486.9" y="51.18" font-size="5.2" text-anchor="end">0.3</text>
<text class="s" x="486.9" y="38.68" font-size="5.2" text-anchor="end">0.35</text>
<text class="s" x="486.9" y="26.18" font-size="5.2" text-anchor="end">0.4</text>
<text class="s" x="486.9" y="13.68" font-size="5.2" text-anchor="end">0.45</text>
<clipPath id="cf"><rect x="487.0" y="161.0" width="106.0" height="102.0"/></clipPath>
<g clip-path="url(#cf)">
<path d="M486 247.3L488 246.5L490 245.7L492 244.9L494 244L496 243.2L498 242.4L500 241.5L502 240.6L504 239.7L506 238.8L508 237.9L510 237L512 236L514 235.1L516 234.1L518 233.1L520 232.1L522 231L524 230L526 229L528 227.8L530 226.7L532 225.5L534 224.4L536 223.3L538 222.1L540 220.9L542 219.5L544 218.2L546 216.9L548 215.6L550 214.3L552 213L554 211.5L556 210.1L558 208.6L560 207.1L562 205.6L564 204.2L566 202.6L568 201L570 199.4L572 197.8L574 196.2L576 194.6L578 193L580 191.4L582 189.8L584 188.2L586 186.6L588 184.8L590 183L592 181.2L594 179.4L594 185.8L592 187.5L590 189.2L588 190.9L586 192.6L584 194.2L582 195.8L580 197.3L578 198.9L576 200.4L574 202L572 203.5L570 205.1L568 206.6L566 208.2L564 209.7L562 211.1L560 212.5L558 213.9L556 215.4L554 216.8L552 218.2L550 219.5L548 220.7L546 222L544 223.2L542 224.5L540 225.8L538 227L536 228.1L534 229.1L532 230.2L530 231.3L528 232.4L526 233.5L524 234.5L522 235.5L520 236.4L518 237.4L516 238.3L514 239.3L512 240.2L510 241.1L508 241.9L506 242.8L504 243.7L502 244.5L500 245.4L498 246.2L496 247L494 247.8L492 248.5L490 249.3L488 250.1L486 250.8Z" fill="#0072BD" stroke="none" stroke-width="1"/>
<path d="M487.6 246.4h1.0v1.0h-1.0zM550.8 218.2h1.0v1.0h-1.0zM551.8 217.7h1.0v1.0h-1.0zM533.4 224.3h1.0v1.0h-1.0zM501.6 240.4h1.0v1.0h-1.0zM554 216.3h1.0v1.0h-1.0zM537.5 227h1.0v1.0h-1.0zM547.2 220.5h1.0v1.0h-1.0zM516.2 237.7h1.0v1.0h-1.0zM487.7 246.1h1.0v1.0h-1.0zM550.9 219h1.0v1.0h-1.0zM512.6 239.6h1.0v1.0h-1.0zM560 207h1.0v1.0h-1.0zM486.2 250.1h1.0v1.0h-1.0zM514.9 233.8h1.0v1.0h-1.0zM581.8 189.5h1.0v1.0h-1.0zM517.2 233.1h1.0v1.0h-1.0zM547.8 220.7h1.0v1.0h-1.0zM591.3 187.1h1.0v1.0h-1.0zM545.8 221.2h1.0v1.0h-1.0zM507.6 238h1.0v1.0h-1.0zM528.7 227.3h1.0v1.0h-1.0zM586 186.5h1.0v1.0h-1.0zM495.5 246.7h1.0v1.0h-1.0zM569.4 199.5h1.0v1.0h-1.0zM514 238.6h1.0v1.0h-1.0zM537.5 222.3h1.0v1.0h-1.0zM505.5 242.3h1.0v1.0h-1.0zM525.2 233.4h1.0v1.0h-1.0zM502.1 240.3h1.0v1.0h-1.0zM585.6 192h1.0v1.0h-1.0zM554.3 211.2h1.0v1.0h-1.0zM502.9 239.9h1.0v1.0h-1.0zM488.2 246h1.0v1.0h-1.0zM508.1 241.1h1.0v1.0h-1.0zM586 191.8h1.0v1.0h-1.0zM532 229.3h1.0v1.0h-1.0zM590.1 189h1.0v1.0h-1.0zM577.1 198.6h1.0v1.0h-1.0zM495 243.4h1.0v1.0h-1.0zM489.8 248.7h1.0v1.0h-1.0zM588.3 184.2h1.0v1.0h-1.0zM579.2 197.6h1.0v1.0h-1.0zM495.7 246.4h1.0v1.0h-1.0zM547 215.6h1.0v1.0h-1.0zM528.5 231.3h1.0v1.0h-1.0zM577.8 199.5h1.0v1.0h-1.0zM509.9 236.7h1.0v1.0h-1.0zM587.7 190.7h1.0v1.0h-1.0zM489 245.9h1.0v1.0h-1.0zM513.9 238.6h1.0v1.0h-1.0zM567.5 201.3h1.0v1.0h-1.0zM559.1 212.6h1.0v1.0h-1.0zM556.5 214.3h1.0v1.0h-1.0zM521 235.3h1.0v1.0h-1.0zM527 232.2h1.0v1.0h-1.0zM511.8 235.3h1.0v1.0h-1.0zM536.5 222.5h1.0v1.0h-1.0zM572.3 197.3h1.0v1.0h-1.0zM586.9 191h1.0v1.0h-1.0zM582 189.6h1.0v1.0h-1.0zM586 192.8h1.0v1.0h-1.0zM577 193.4h1.0v1.0h-1.0zM574.9 200.4h1.0v1.0h-1.0zM498.5 245.2h1.0v1.0h-1.0zM492.1 247.7h1.0v1.0h-1.0zM545.8 216.9h1.0v1.0h-1.0zM531.2 226h1.0v1.0h-1.0zM502.8 243.5h1.0v1.0h-1.0zM572.8 202h1.0v1.0h-1.0zM539 225.9h1.0v1.0h-1.0zM502.6 240.2h1.0v1.0h-1.0zM554.1 210.6h1.0v1.0h-1.0zM498.9 241.7h1.0v1.0h-1.0zM590.8 189.2h1.0v1.0h-1.0zM585.9 186.6h1.0v1.0h-1.0zM528.1 231.4h1.0v1.0h-1.0zM564.5 208.4h1.0v1.0h-1.0zM501.6 240.3h1.0v1.0h-1.0zM541.2 224.2h1.0v1.0h-1.0zM486.2 249.9h1.0v1.0h-1.0zM584.5 187.3h1.0v1.0h-1.0zM515.9 234h1.0v1.0h-1.0zM569.2 199.9h1.0v1.0h-1.0zM507.2 237.8h1.0v1.0h-1.0zM564.9 208.9h1.0v1.0h-1.0zM504.9 238.7h1.0v1.0h-1.0zM573.7 201.7h1.0v1.0h-1.0zM507.8 237.8h1.0v1.0h-1.0zM576.8 193.4h1.0v1.0h-1.0zM542 223.9h1.0v1.0h-1.0zM579.4 197.6h1.0v1.0h-1.0zM495.8 246.5h1.0v1.0h-1.0zM580.2 196.4h1.0v1.0h-1.0zM512.8 239.6h1.0v1.0h-1.0zM548.1 215.4h1.0v1.0h-1.0zM524.5 233.4h1.0v1.0h-1.0zM524.5 229.8h1.0v1.0h-1.0zM574.2 201h1.0v1.0h-1.0zM548.2 214.5h1.0v1.0h-1.0zM517.5 232.8h1.0v1.0h-1.0zM541.4 219.8h1.0v1.0h-1.0zM488.2 246.4h1.0v1.0h-1.0zM497.1 245.8h1.0v1.0h-1.0zM546 215.9h1.0v1.0h-1.0zM565.8 207.5h1.0v1.0h-1.0zM487.9 249.8h1.0v1.0h-1.0zM497.1 242.7h1.0v1.0h-1.0zM563.4 204.5h1.0v1.0h-1.0zM549.3 219.4h1.0v1.0h-1.0zM497.9 242.3h1.0v1.0h-1.0zM549.9 214.3h1.0v1.0h-1.0zM501.9 243.5h1.0v1.0h-1.0zM575.2 200.3h1.0v1.0h-1.0zM560.9 205.5h1.0v1.0h-1.0zM569.9 204.8h1.0v1.0h-1.0zM529.3 230.9h1.0v1.0h-1.0zM547 221.3h1.0v1.0h-1.0zM574 196.1h1.0v1.0h-1.0zM559.5 212.1h1.0v1.0h-1.0zM512.9 238.8h1.0v1.0h-1.0zM497.8 242.5h1.0v1.0h-1.0zM493.5 247.1h1.0v1.0h-1.0zM510.4 240.6h1.0v1.0h-1.0zM590.7 188.1h1.0v1.0h-1.0zM581.5 189.5h1.0v1.0h-1.0zM489.7 249h1.0v1.0h-1.0zM553.9 211.3h1.0v1.0h-1.0zM553.1 216.4h1.0v1.0h-1.0zM511.6 236.2h1.0v1.0h-1.0zM517.1 237h1.0v1.0h-1.0zM492.5 247.5h1.0v1.0h-1.0zM495.1 243.1h1.0v1.0h-1.0zM581.6 195.2h1.0v1.0h-1.0zM548.4 219.5h1.0v1.0h-1.0zM545 221.8h1.0v1.0h-1.0zM551.9 212.9h1.0v1.0h-1.0zM562.7 209.8h1.0v1.0h-1.0zM582.3 194.9h1.0v1.0h-1.0zM519.5 232h1.0v1.0h-1.0zM522 230.6h1.0v1.0h-1.0zM549.3 214.8h1.0v1.0h-1.0zM585.8 186.5h1.0v1.0h-1.0zM546.1 221.1h1.0v1.0h-1.0zM515.2 234.3h1.0v1.0h-1.0zM503.1 239.3h1.0v1.0h-1.0zM551.4 217.7h1.0v1.0h-1.0zM527.9 231.5h1.0v1.0h-1.0zM524.2 228.5h1.0v1.0h-1.0zM559.2 207.6h1.0v1.0h-1.0zM531 229.9h1.0v1.0h-1.0zM552 217.4h1.0v1.0h-1.0zM574.7 195.6h1.0v1.0h-1.0zM568 206.4h1.0v1.0h-1.0zM515 234.4h1.0v1.0h-1.0zM530.3 226.4h1.0v1.0h-1.0zM539.8 220.3h1.0v1.0h-1.0zM580.3 190.8h1.0v1.0h-1.0zM527 232.1h1.0v1.0h-1.0zM524.1 233.8h1.0v1.0h-1.0zM528.2 231.3h1.0v1.0h-1.0zM566.5 206.8h1.0v1.0h-1.0zM527.1 232h1.0v1.0h-1.0zM501.7 244h1.0v1.0h-1.0zM548.8 214.9h1.0v1.0h-1.0zM590.6 182.1h1.0v1.0h-1.0zM589.5 182.4h1.0v1.0h-1.0zM589.2 183.5h1.0v1.0h-1.0zM491.1 248h1.0v1.0h-1.0zM519.7 236.1h1.0v1.0h-1.0zM541.9 223.9h1.0v1.0h-1.0zM550.2 218.6h1.0v1.0h-1.0zM534.9 223.6h1.0v1.0h-1.0zM496.7 246.2h1.0v1.0h-1.0zM540.1 219.9h1.0v1.0h-1.0zM538.6 226.5h1.0v1.0h-1.0zM568.9 205.2h1.0v1.0h-1.0zM496 246.7h1.0v1.0h-1.0zM520.4 231.6h1.0v1.0h-1.0zM497.9 245.7h1.0v1.0h-1.0zM560.5 211.5h1.0v1.0h-1.0zM574.1 195.7h1.0v1.0h-1.0zM540.5 220.4h1.0v1.0h-1.0zM547 216.2h1.0v1.0h-1.0zM524.1 230h1.0v1.0h-1.0zM486.3 247.2h1.0v1.0h-1.0zM585 192.7h1.0v1.0h-1.0zM558.2 208h1.0v1.0h-1.0zM504.9 243h1.0v1.0h-1.0zM541.5 219.1h1.0v1.0h-1.0zM548 219.9h1.0v1.0h-1.0zM542 219.4h1.0v1.0h-1.0zM489.1 245.8h1.0v1.0h-1.0zM574.9 200.8h1.0v1.0h-1.0zM573.1 196.5h1.0v1.0h-1.0zM548.5 214.7h1.0v1.0h-1.0zM563.3 209.2h1.0v1.0h-1.0zM553.9 211.5h1.0v1.0h-1.0zM523.7 233.7h1.0v1.0h-1.0zM509.8 240.2h1.0v1.0h-1.0zM548.9 214.4h1.0v1.0h-1.0zM512.9 235.4h1.0v1.0h-1.0zM503.2 239.7h1.0v1.0h-1.0zM574.1 201.8h1.0v1.0h-1.0zM531.2 230.2h1.0v1.0h-1.0zM588.6 184.2h1.0v1.0h-1.0zM559.1 207.4h1.0v1.0h-1.0zM562.9 204.8h1.0v1.0h-1.0zM571.6 197.9h1.0v1.0h-1.0zM526.9 228.3h1.0v1.0h-1.0zM590.9 187.7h1.0v1.0h-1.0zM522.2 234.6h1.0v1.0h-1.0zM522.3 230.5h1.0v1.0h-1.0zM584.6 187.6h1.0v1.0h-1.0zM527.8 231.5h1.0v1.0h-1.0zM489.8 245.5h1.0v1.0h-1.0zM522.9 230.6h1.0v1.0h-1.0zM507.2 238h1.0v1.0h-1.0zM545.9 221.4h1.0v1.0h-1.0zM503.2 243.7h1.0v1.0h-1.0zM509.4 241.2h1.0v1.0h-1.0zM508.5 241.6h1.0v1.0h-1.0zM540.5 220.1h1.0v1.0h-1.0zM587.7 190.7h1.0v1.0h-1.0zM550.4 218.6h1.0v1.0h-1.0zM512.6 235.6h1.0v1.0h-1.0zM499.6 241.7h1.0v1.0h-1.0zM578 198h1.0v1.0h-1.0zM489.1 245.9h1.0v1.0h-1.0zM495.3 243.1h1.0v1.0h-1.0zM569.8 199.3h1.0v1.0h-1.0zM497.8 245.9h1.0v1.0h-1.0zM573 202h1.0v1.0h-1.0zM495.5 246.9h1.0v1.0h-1.0zM499.6 244.6h1.0v1.0h-1.0zM584.2 187.6h1.0v1.0h-1.0zM587.2 184.8h1.0v1.0h-1.0zM557.7 213.3h1.0v1.0h-1.0zM582.9 188.7h1.0v1.0h-1.0zM512.8 239.4h1.0v1.0h-1.0zM524 230h1.0v1.0h-1.0zM584.6 187.5h1.0v1.0h-1.0zM563 204.4h1.0v1.0h-1.0zM532.5 229.3h1.0v1.0h-1.0zM502.9 239.6h1.0v1.0h-1.0zM587.7 184.9h1.0v1.0h-1.0zM547.6 220.6h1.0v1.0h-1.0zM548.1 215.2h1.0v1.0h-1.0zM498.1 246h1.0v1.0h-1.0zM549.2 214.3h1.0v1.0h-1.0zM591.2 181.6h1.0v1.0h-1.0zM569.9 204.2h1.0v1.0h-1.0zM566.9 201.2h1.0v1.0h-1.0zM593.8 179.3h1.0v1.0h-1.0zM516.4 233.2h1.0v1.0h-1.0zM533.8 229.2h1.0v1.0h-1.0zM560.7 211.7h1.0v1.0h-1.0zM508.2 237.8h1.0v1.0h-1.0zM538.9 220.9h1.0v1.0h-1.0zM573 201.9h1.0v1.0h-1.0zM504.8 238.7h1.0v1.0h-1.0zM544.7 217.7h1.0v1.0h-1.0zM590.1 182.7h1.0v1.0h-1.0zM507.8 241.4h1.0v1.0h-1.0zM500.8 244.2h1.0v1.0h-1.0zM512.1 239.4h1.0v1.0h-1.0zM500.4 244.3h1.0v1.0h-1.0zM562.4 205.1h1.0v1.0h-1.0zM522 230.3h1.0v1.0h-1.0zM504.3 239.4h1.0v1.0h-1.0zM550.7 218.3h1.0v1.0h-1.0zM508.3 241.2h1.0v1.0h-1.0zM487.3 249.3h1.0v1.0h-1.0zM516.3 233.8h1.0v1.0h-1.0zM497.9 245.4h1.0v1.0h-1.0zM521 235h1.0v1.0h-1.0zM547.5 220.1h1.0v1.0h-1.0zM487.2 249.5h1.0v1.0h-1.0zM495.1 246.9h1.0v1.0h-1.0zM497.8 245.3h1.0v1.0h-1.0zM589.3 189h1.0v1.0h-1.0zM486.9 246.4h1.0v1.0h-1.0zM555.6 214.7h1.0v1.0h-1.0zM566.7 201.9h1.0v1.0h-1.0zM569.6 199.7h1.0v1.0h-1.0zM554.9 210.6h1.0v1.0h-1.0zM497 245.6h1.0v1.0h-1.0zM505.9 242.2h1.0v1.0h-1.0zM520.6 235.8h1.0v1.0h-1.0zM576.5 199.8h1.0v1.0h-1.0zM511.9 235.5h1.0v1.0h-1.0zM585.5 192.6h1.0v1.0h-1.0zM583.8 187.8h1.0v1.0h-1.0zM503 243.1h1.0v1.0h-1.0zM551.1 213.4h1.0v1.0h-1.0zM500.9 244.2h1.0v1.0h-1.0zM495.7 243.1h1.0v1.0h-1.0zM509.6 240.7h1.0v1.0h-1.0zM486.3 249.8h1.0v1.0h-1.0zM492 247.6h1.0v1.0h-1.0z" fill="#0072BD"/>
</g>
<rect x="486.5" y="160.5" width="107" height="103" fill="none" stroke="#333333"/>
<path d="M486.5 263.5v-1.3M486.5 160.5v1.3M501.79 263.5v-1.3M501.79 160.5v1.3M517.07 263.5v-1.3M517.07 160.5v1.3M532.36 263.5v-1.3M532.36 160.5v1.3M547.64 263.5v-1.3M547.64 160.5v1.3M562.93 263.5v-1.3M562.93 160.5v1.3M578.21 263.5v-1.3M578.21 160.5v1.3M593.5 263.5v-1.3M593.5 160.5v1.3M486.5 263.5h1.3M593.5 263.5h-1.3M486.5 250.62h1.3M593.5 250.62h-1.3M486.5 237.75h1.3M593.5 237.75h-1.3M486.5 224.88h1.3M593.5 224.88h-1.3M486.5 212h1.3M593.5 212h-1.3M486.5 199.12h1.3M593.5 199.12h-1.3M486.5 186.25h1.3M593.5 186.25h-1.3M486.5 173.38h1.3M593.5 173.38h-1.3M486.5 160.5h1.3M593.5 160.5h-1.3" stroke="#333333" stroke-width="1"/>
<text class="s" x="486.5" y="270.8" font-size="5.2" text-anchor="middle">0</text>
<text class="s" x="501.79" y="270.8" font-size="5.2" text-anchor="middle">1</text>
<text class="s" x="517.07" y="270.8" font-size="5.2" text-anchor="middle">2</text>
<text class="s" x="532.36" y="270.8" font-size="5.2" text-anchor="middle">3</text>
<text class="s" x="547.64" y="270.8" font-size="5.2" text-anchor="middle">4</text>
<text class="s" x="562.93" y="270.8" font-size="5.2" text-anchor="middle">5</text>
<text class="s" x="578.21" y="270.8" font-size="5.2" text-anchor="middle">6</text>
<text class="s" x="593.5" y="270.8" font-size="5.2" text-anchor="middle">7</text>
<text class="s" x="484.9" y="265.68" font-size="5.2" text-anchor="end">0.05</text>
<text class="s" x="484.9" y="252.81" font-size="5.2" text-anchor="end">0.1</text>
<text class="s" x="484.9" y="239.93" font-size="5.2" text-anchor="end">0.15</text>
<text class="s" x="484.9" y="227.06" font-size="5.2" text-anchor="end">0.2</text>
<text class="s" x="484.9" y="214.18" font-size="5.2" text-anchor="end">0.25</text>
<text class="s" x="484.9" y="201.31" font-size="5.2" text-anchor="end">0.3</text>
<text class="s" x="484.9" y="188.43" font-size="5.2" text-anchor="end">0.35</text>
<text class="s" x="484.9" y="175.56" font-size="5.2" text-anchor="end">0.4</text>
<text class="s" x="484.9" y="162.68" font-size="5.2" text-anchor="end">0.45</text>
<text class="s" transform="translate(469,101.4) rotate(-90)" font-size="8.6" textLength="80.6">Ribosome fraction <tspan font-style="italic">ϕ</tspan><tspan font-size="7.2" dy="4.9" dx="-0.9">R</tspan></text>
<text class="s" x="503.8" y="131.5" font-size="8.41" textLength="67.04">Growth rate <tspan class="r" font-style="italic">μ</tspan>/min</text>
<text class="s" x="571.48" y="126.9" font-size="5.72">-1</text>
<text class="s" x="578.81" y="126.9" font-size="4.99">×10</text>
<text class="s" x="588.49" y="124.85" font-size="3.08">-3</text>
<text class="s" transform="translate(468.4,252.4) rotate(-90)" font-size="8.6" textLength="80.6">Ribosome fraction <tspan font-style="italic">ϕ</tspan><tspan font-size="7.2" dy="4.9" dx="-0.9">R</tspan></text>
<text class="s" x="502.2" y="283.1" font-size="8.41" textLength="67.04">Growth rate <tspan class="r" font-style="italic">μ</tspan>/min</text>
<text class="s" x="569.88" y="278.5" font-size="5.72">-1</text>
<text class="s" x="577.21" y="278.5" font-size="4.99">×10</text>
<text class="s" x="586.89" y="276.45" font-size="3.08">-3</text>
<text class="s" x="547.6" y="99.37" font-size="6.3" textLength="40"><tspan class="r" font-style="italic">σ</tspan><tspan font-size="5.98" dy="2.65">I</tspan><tspan font-size="4.16" dy="3.47" font-style="italic">χ,k</tspan><tspan dy="-6.11">=</tspan><tspan class="r" font-style="italic">σ</tspan><tspan font-size="5.98" dy="2.65">I</tspan><tspan font-size="4.16" dy="3.47" font-style="italic">ϕ,α</tspan><tspan dy="-6.11">=</tspan>0.2</text>
<text class="s" x="546.8" y="250.97" font-size="6.3" textLength="45.3"><tspan class="r" font-style="italic">σ</tspan><tspan font-size="5.98" dy="2.65">I</tspan><tspan font-size="4.16" dy="3.47" font-style="italic">χ,k</tspan><tspan dy="-6.11">=</tspan><tspan class="r" font-style="italic">σ</tspan><tspan font-size="5.98" dy="2.65">I</tspan><tspan font-size="4.16" dy="3.47" font-style="italic">ϕ,α</tspan><tspan dy="-6.11">=</tspan>0.05</text>
<path d="M653 112.5V109.9h2.8V112.5zM655.8 112.5V107.9h2.8V112.5zM658.6 112.5V101.2h2.8V112.5zM661.4 112.5V90.9h2.8V112.5zM664.2 112.5V73h2.8V112.5zM667 112.5V65.3h2.8V112.5zM669.8 112.5V48.3h2.8V112.5zM672.6 112.5V33.4h2.8V112.5zM675.4 112.5V28.9h2.8V112.5zM678.2 112.5V33.1h2.8V112.5zM681 112.5V32.3h2.8V112.5zM683.8 112.5V40.2h2.8V112.5zM686.6 112.5V47.2h2.8V112.5zM689.4 112.5V61.2h2.8V112.5zM692.2 112.5V76h2.8V112.5zM695 112.5V78.6h2.8V112.5zM697.8 112.5V88.3h2.8V112.5zM700.6 112.5V94h2.8V112.5zM703.4 112.5V99.2h2.8V112.5zM706.2 112.5V103.4h2.8V112.5zM709 112.5V106.6h2.8V112.5zM711.8 112.5V108.7h2.8V112.5zM714.6 112.5V110.8h2.8V112.5zM717.4 112.5V111.2h2.8V112.5zM720.2 112.5V111.4h2.8V112.5zM723 112.5V111.6h2.8V112.5z" fill="#55a1db" stroke="#1b2630" stroke-width="0.55"/>
<rect x="635.5" y="10.5" width="106" height="102" fill="none" stroke="#333333"/>
<path d="M635.5 112.5v-1.3M635.5 10.5v1.3M662 112.5v-1.3M662 10.5v1.3M688.5 112.5v-1.3M688.5 10.5v1.3M715 112.5v-1.3M715 10.5v1.3M741.5 112.5v-1.3M741.5 10.5v1.3M635.5 112.5h1.3M741.5 112.5h-1.3M635.5 95.5h1.3M741.5 95.5h-1.3M635.5 78.5h1.3M741.5 78.5h-1.3M635.5 61.5h1.3M741.5 61.5h-1.3M635.5 44.5h1.3M741.5 44.5h-1.3M635.5 27.5h1.3M741.5 27.5h-1.3M635.5 10.5h1.3M741.5 10.5h-1.3" stroke="#333333" stroke-width="1"/>
<text class="s" x="635.5" y="119.8" font-size="4.7" text-anchor="middle">0</text>
<text class="s" x="662" y="119.8" font-size="4.7" text-anchor="middle">0.01</text>
<text class="s" x="688.5" y="119.8" font-size="4.7" text-anchor="middle">0.02</text>
<text class="s" x="715" y="119.8" font-size="4.7" text-anchor="middle">0.03</text>
<text class="s" x="741.5" y="119.8" font-size="4.7" text-anchor="middle">0.04</text>
<text class="s" x="633.9" y="114.47" font-size="4.7" text-anchor="end">0</text>
<text class="s" x="633.9" y="97.47" font-size="4.7" text-anchor="end">100</text>
<text class="s" x="633.9" y="80.47" font-size="4.7" text-anchor="end">200</text>
<text class="s" x="633.9" y="63.47" font-size="4.7" text-anchor="end">300</text>
<text class="s" x="633.9" y="46.47" font-size="4.7" text-anchor="end">400</text>
<text class="s" x="633.9" y="29.47" font-size="4.7" text-anchor="end">500</text>
<text class="s" x="633.9" y="12.47" font-size="4.7" text-anchor="end">600</text>
<text class="s" x="694.1" y="19.17" font-size="5.2" textLength="33.7"><tspan class="r" font-style="italic">σ</tspan><tspan font-size="4.94" dy="2.18">I</tspan><tspan font-size="3.43" dy="2.86" font-style="italic">χ,k</tspan><tspan dy="-5.04">=</tspan><tspan class="r" font-style="italic">σ</tspan><tspan font-size="4.94" dy="2.18">I</tspan><tspan font-size="3.43" dy="2.86" font-style="italic">ϕ,α</tspan><tspan dy="-5.04">=</tspan>0.2</text>
<text class="s" x="694" y="35" font-size="5.3">median = 1.69e-02</text>
<text class="s" transform="translate(621.8,72.7) rotate(-90)" font-size="6.2">Number</text>
<text class="s" x="689" y="127.7" font-size="6.3" text-anchor="middle">RMSE</text>
<path d="M638.7 262.5V261.5h1.3V262.5zM640 262.5V257h1.3V262.5zM641.3 262.5V243h1V262.5zM642.3 262.5V228h0.9V262.5zM643.2 262.5V214h0.8V262.5zM644 262.5V203h0.8V262.5zM644.8 262.5V192h0.7V262.5zM645.5 262.5V182h0.7V262.5zM646.2 262.5V175.5h0.7V262.5zM646.9 262.5V174.5h0.7V262.5zM647.6 262.5V180h0.7V262.5zM648.3 262.5V189h0.7V262.5zM649 262.5V199h0.8V262.5zM649.8 262.5V212h0.8V262.5zM650.6 262.5V224h0.9V262.5zM651.5 262.5V236h1V262.5zM652.5 262.5V246h1.1V262.5zM653.6 262.5V254h1.2V262.5zM654.8 262.5V259h1V262.5zM655.8 262.5V261.3h2.2V262.5zM658 262.5V261.8h6V262.5z" fill="#2a3440" stroke="#0a0f14" stroke-width="0.55"/>
<rect x="635.5" y="160.5" width="106" height="102" fill="none" stroke="#333333"/>
<path d="M635.5 262.5v-1.3M635.5 160.5v1.3M662 262.5v-1.3M662 160.5v1.3M688.5 262.5v-1.3M688.5 160.5v1.3M715 262.5v-1.3M715 160.5v1.3M741.5 262.5v-1.3M741.5 160.5v1.3M635.5 262.5h1.3M741.5 262.5h-1.3M635.5 247.93h1.3M741.5 247.93h-1.3M635.5 233.36h1.3M741.5 233.36h-1.3M635.5 218.79h1.3M741.5 218.79h-1.3M635.5 204.21h1.3M741.5 204.21h-1.3M635.5 189.64h1.3M741.5 189.64h-1.3M635.5 175.07h1.3M741.5 175.07h-1.3M635.5 160.5h1.3M741.5 160.5h-1.3" stroke="#333333" stroke-width="1"/>
<text class="s" x="635.5" y="269.8" font-size="4.7" text-anchor="middle">0</text>
<text class="s" x="662" y="269.8" font-size="4.7" text-anchor="middle">0.01</text>
<text class="s" x="688.5" y="269.8" font-size="4.7" text-anchor="middle">0.02</text>
<text class="s" x="715" y="269.8" font-size="4.7" text-anchor="middle">0.03</text>
<text class="s" x="741.5" y="269.8" font-size="4.7" text-anchor="middle">0.04</text>
<text class="s" x="633.9" y="264.47" font-size="4.7" text-anchor="end">0</text>
<text class="s" x="633.9" y="249.9" font-size="4.7" text-anchor="end">100</text>
<text class="s" x="633.9" y="235.33" font-size="4.7" text-anchor="end">200</text>
<text class="s" x="633.9" y="220.76" font-size="4.7" text-anchor="end">300</text>
<text class="s" x="633.9" y="206.19" font-size="4.7" text-anchor="end">400</text>
<text class="s" x="633.9" y="191.62" font-size="4.7" text-anchor="end">500</text>
<text class="s" x="633.9" y="177.05" font-size="4.7" text-anchor="end">600</text>
<text class="s" x="633.9" y="162.47" font-size="4.7" text-anchor="end">700</text>
<text class="s" x="694.1" y="172.57" font-size="5.2" textLength="35.8"><tspan class="r" font-style="italic">σ</tspan><tspan font-size="4.94" dy="2.18">I</tspan><tspan font-size="3.43" dy="2.86" font-style="italic">χ,k</tspan><tspan dy="-5.04">=</tspan><tspan class="r" font-style="italic">σ</tspan><tspan font-size="4.94" dy="2.18">I</tspan><tspan font-size="3.43" dy="2.86" font-style="italic">ϕ,α</tspan><tspan dy="-5.04">=</tspan>0.05</text>
<text class="s" x="694" y="186.8" font-size="5.3">median = 4.44e-03</text>
<text class="s" transform="translate(621.8,222.7) rotate(-90)" font-size="6.2">Number</text>
<text class="s" x="689" y="277.7" font-size="6.3" text-anchor="middle">RMSE</text>
<path d="M340.3 82.1L340.3 25.9M340.3 82.1L387 108.4M358.9 75.9L358.9 19.7M358.9 75.9L405.6 102.2M378.2 69.5L378.2 13.3M378.2 69.5L424.9 95.8M400.2 71.6L400.2 15.4M339.9 91.6L400.2 71.6M413.8 79.3L413.8 23.1M353.5 99.3L413.8 79.3M428.5 87.6L428.5 31.4M368.2 107.6L428.5 87.6M329.4 59.2L389.7 39.2M389.7 39.2L436.4 65.5M329.4 32.7L389.7 12.7M389.7 12.7L436.4 39M389.7 65.7L389.7 9.5M329.4 85.7L389.7 65.7M389.7 65.7L436.4 92" stroke="#d9d9d9" stroke-width="0.8"/>
<path d="M332 86.1L390.5 66.7L434.4 91.4L375.9 110.8Z" fill="#1f2327" stroke="none" stroke-width="1"/>
<path d="M386.8 71.1h1.1v1.1h-1.1zM375.4 108.5h1.1v1.1h-1.1zM375 99.9h1.1v1.1h-1.1zM355.9 79.1h1.1v1.1h-1.1zM407.7 87.2h1.1v1.1h-1.1zM385.9 86.7h1.1v1.1h-1.1zM386.6 88.3h1.1v1.1h-1.1zM381 90.8h1.1v1.1h-1.1zM376 78.2h1.1v1.1h-1.1zM382.6 93h1.1v1.1h-1.1zM373.3 103.7h1.1v1.1h-1.1zM388.8 80.6h1.1v1.1h-1.1zM395 87.3h1.1v1.1h-1.1zM373.6 87h1.1v1.1h-1.1zM376.9 77.2h1.1v1.1h-1.1zM405 82.6h1.1v1.1h-1.1zM405.6 94.4h1.1v1.1h-1.1zM378.2 99.4h1.1v1.1h-1.1zM379.3 76.8h1.1v1.1h-1.1zM390.2 88.5h1.1v1.1h-1.1zM402.2 77.2h1.1v1.1h-1.1zM366.6 92h1.1v1.1h-1.1zM358.8 86.6h1.1v1.1h-1.1zM397 73h1.1v1.1h-1.1zM385.6 77.5h1.1v1.1h-1.1zM408.5 86h1.1v1.1h-1.1zM373.3 98.4h1.1v1.1h-1.1zM383.6 78.3h1.1v1.1h-1.1zM382.9 90.4h1.1v1.1h-1.1zM404.3 90.6h1.1v1.1h-1.1zM409 82.7h1.1v1.1h-1.1zM410.5 86.4h1.1v1.1h-1.1zM384.8 74.5h1.1v1.1h-1.1zM384 88.8h1.1v1.1h-1.1zM421.1 93h1.1v1.1h-1.1zM409.9 97.2h1.1v1.1h-1.1zM382.7 87.4h1.1v1.1h-1.1zM395.7 86.3h1.1v1.1h-1.1zM396.5 72.7h1.1v1.1h-1.1zM365 79.5h1.1v1.1h-1.1zM381.5 93.8h1.1v1.1h-1.1zM359.2 79.7h1.1v1.1h-1.1zM366.6 101.9h1.1v1.1h-1.1zM407.1 79.3h1.1v1.1h-1.1zM347.1 87h1.1v1.1h-1.1zM388.8 71.4h1.1v1.1h-1.1zM398.1 72.6h1.1v1.1h-1.1zM371.7 101.1h1.1v1.1h-1.1zM369.8 88.2h1.1v1.1h-1.1zM415.2 89.6h1.1v1.1h-1.1zM376.1 72.7h1.1v1.1h-1.1zM359 87h1.1v1.1h-1.1zM385.3 89h1.1v1.1h-1.1zM375.1 91h1.1v1.1h-1.1zM394.9 79.4h1.1v1.1h-1.1zM368.2 87.2h1.1v1.1h-1.1zM369.6 75.7h1.1v1.1h-1.1zM395.4 75h1.1v1.1h-1.1zM383.6 95.9h1.1v1.1h-1.1zM377.5 109h1.1v1.1h-1.1zM392.4 96.6h1.1v1.1h-1.1zM364.9 78.8h1.1v1.1h-1.1zM355.4 84.8h1.1v1.1h-1.1zM423.1 89.6h1.1v1.1h-1.1zM407 93.5h1.1v1.1h-1.1zM377.9 81.1h1.1v1.1h-1.1zM422.1 85.7h1.1v1.1h-1.1zM368.3 91.6h1.1v1.1h-1.1zM377.9 109.1h1.1v1.1h-1.1zM382.1 88.5h1.1v1.1h-1.1zM371.7 105.2h1.1v1.1h-1.1zM365 99.3h1.1v1.1h-1.1zM395.7 88.4h1.1v1.1h-1.1zM422.2 93.4h1.1v1.1h-1.1zM392 83.9h1.1v1.1h-1.1zM387.7 104.5h1.1v1.1h-1.1zM378.6 85h1.1v1.1h-1.1zM377.1 83.7h1.1v1.1h-1.1zM368.3 98.4h1.1v1.1h-1.1zM380.9 101.5h1.1v1.1h-1.1zM389 80.5h1.1v1.1h-1.1zM400.1 99.6h1.1v1.1h-1.1zM366.3 88.2h1.1v1.1h-1.1zM371.1 82.5h1.1v1.1h-1.1zM385.4 102.2h1.1v1.1h-1.1zM395 89.7h1.1v1.1h-1.1zM381.1 76h1.1v1.1h-1.1zM358.7 80.4h1.1v1.1h-1.1zM404.7 76.2h1.1v1.1h-1.1zM391.1 89.3h1.1v1.1h-1.1zM371.8 100h1.1v1.1h-1.1zM423.5 90.5h1.1v1.1h-1.1zM348.4 89h1.1v1.1h-1.1zM382.4 91.7h1.1v1.1h-1.1zM373.5 102.9h1.1v1.1h-1.1zM388.7 77.1h1.1v1.1h-1.1zM384.9 74.7h1.1v1.1h-1.1zM379.2 107.5h1.1v1.1h-1.1zM368.9 88.3h1.1v1.1h-1.1zM392.4 76.1h1.1v1.1h-1.1zM413.3 86.9h1.1v1.1h-1.1zM382.9 96.5h1.1v1.1h-1.1zM409.2 94.6h1.1v1.1h-1.1zM399.3 83.5h1.1v1.1h-1.1zM418.4 88.7h1.1v1.1h-1.1zM396.4 71.2h1.1v1.1h-1.1zM383.5 103.3h1.1v1.1h-1.1zM389 83.2h1.1v1.1h-1.1zM389.2 97h1.1v1.1h-1.1zM411 82.8h1.1v1.1h-1.1zM373 100.4h1.1v1.1h-1.1zM372.8 94.9h1.1v1.1h-1.1zM411.9 96.8h1.1v1.1h-1.1zM346.8 89.2h1.1v1.1h-1.1zM410.6 82.8h1.1v1.1h-1.1zM366.5 88.8h1.1v1.1h-1.1zM401.5 100.4h1.1v1.1h-1.1zM403.4 90.4h1.1v1.1h-1.1zM421.1 88.9h1.1v1.1h-1.1zM359.8 84.3h1.1v1.1h-1.1zM407.5 82.4h1.1v1.1h-1.1zM403.2 86.9h1.1v1.1h-1.1zM348.7 82.1h1.1v1.1h-1.1zM356.2 95.7h1.1v1.1h-1.1zM396.2 76.3h1.1v1.1h-1.1zM366.8 79.1h1.1v1.1h-1.1zM350.5 82.9h1.1v1.1h-1.1zM343.9 84.8h1.1v1.1h-1.1zM373.1 104h1.1v1.1h-1.1zM396.9 92.4h1.1v1.1h-1.1zM346.4 92.3h1.1v1.1h-1.1zM371 74.5h1.1v1.1h-1.1zM353.8 80.7h1.1v1.1h-1.1zM389.1 100.6h1.1v1.1h-1.1zM356.7 97h1.1v1.1h-1.1zM402.2 93.7h1.1v1.1h-1.1zM380.7 103.2h1.1v1.1h-1.1zM382.6 73.4h1.1v1.1h-1.1zM401.4 93.1h1.1v1.1h-1.1zM406.3 77.3h1.1v1.1h-1.1zM423.6 89.4h1.1v1.1h-1.1zM349.5 93h1.1v1.1h-1.1zM384.2 81.4h1.1v1.1h-1.1zM387.6 95.2h1.1v1.1h-1.1zM387.7 74.4h1.1v1.1h-1.1zM344.6 90.7h1.1v1.1h-1.1zM399.5 96.2h1.1v1.1h-1.1zM369.8 88h1.1v1.1h-1.1zM382.4 95.8h1.1v1.1h-1.1zM389.2 73.7h1.1v1.1h-1.1zM413.4 81.6h1.1v1.1h-1.1zM373.5 96.4h1.1v1.1h-1.1zM399.9 82.4h1.1v1.1h-1.1zM363.7 100.8h1.1v1.1h-1.1zM394 87h1.1v1.1h-1.1zM397.4 86.3h1.1v1.1h-1.1zM377.1 91.9h1.1v1.1h-1.1zM360.6 87h1.1v1.1h-1.1zM369.9 78.1h1.1v1.1h-1.1zM420.7 94.2h1.1v1.1h-1.1zM369.5 98.1h1.1v1.1h-1.1zM398.1 101.8h1.1v1.1h-1.1zM413 83.6h1.1v1.1h-1.1zM364.4 96.6h1.1v1.1h-1.1zM378.8 100.6h1.1v1.1h-1.1zM374.6 95.6h1.1v1.1h-1.1zM413.6 93.8h1.1v1.1h-1.1zM419 90.2h1.1v1.1h-1.1zM400.2 84.2h1.1v1.1h-1.1zM384 96.4h1.1v1.1h-1.1zM395.4 98.2h1.1v1.1h-1.1zM384.9 103.7h1.1v1.1h-1.1zM401.1 78.6h1.1v1.1h-1.1zM379.7 100.8h1.1v1.1h-1.1zM364 101.2h1.1v1.1h-1.1zM369.5 104.8h1.1v1.1h-1.1zM413.8 85.2h1.1v1.1h-1.1zM363.8 85h1.1v1.1h-1.1zM393.7 100.6h1.1v1.1h-1.1zM383.2 94.7h1.1v1.1h-1.1zM383.8 70.9h1.1v1.1h-1.1zM365.7 102.4h1.1v1.1h-1.1zM363.1 90h1.1v1.1h-1.1zM370.7 90.1h1.1v1.1h-1.1zM387.2 101.7h1.1v1.1h-1.1zM403.7 100.1h1.1v1.1h-1.1zM398.7 82.8h1.1v1.1h-1.1zM418.9 87h1.1v1.1h-1.1zM393.4 71.7h1.1v1.1h-1.1zM355.1 82.6h1.1v1.1h-1.1zM371.6 106.6h1.1v1.1h-1.1zM362 89h1.1v1.1h-1.1zM408.8 97.4h1.1v1.1h-1.1zM348.7 83.3h1.1v1.1h-1.1zM413.9 91.8h1.1v1.1h-1.1zM377.5 73.6h1.1v1.1h-1.1zM396.1 82.2h1.1v1.1h-1.1zM364.7 81.3h1.1v1.1h-1.1zM415.5 85h1.1v1.1h-1.1zM385.8 74.8h1.1v1.1h-1.1zM391 72.4h1.1v1.1h-1.1zM372.7 92.3h1.1v1.1h-1.1zM385.8 97.3h1.1v1.1h-1.1zM377.2 86.9h1.1v1.1h-1.1zM384.7 93.6h1.1v1.1h-1.1zM388.3 83.2h1.1v1.1h-1.1zM391 101h1.1v1.1h-1.1zM375.7 80h1.1v1.1h-1.1zM370.2 74.8h1.1v1.1h-1.1zM367.2 97.6h1.1v1.1h-1.1zM396 92h1.1v1.1h-1.1zM377.2 73.8h1.1v1.1h-1.1zM387.1 71.1h1.1v1.1h-1.1zM381.1 106.6h1.1v1.1h-1.1zM410.7 80.6h1.1v1.1h-1.1zM344.3 91.3h1.1v1.1h-1.1zM391.3 91.1h1.1v1.1h-1.1zM406.8 99.5h1.1v1.1h-1.1zM399.4 96.1h1.1v1.1h-1.1zM391.1 70.2h1.1v1.1h-1.1z" fill="#3c4753"/>
<path class="k" d="M381.8 76.6L383.5 77.6L385.7 76.9L385.7 74.9L384 74L381.8 74.7Z"/><path class="kl" d="M381.8 76.6L383.5 77.6L383.5 75.7L381.8 74.7Z"/><path class="kt" d="M381.8 74.7L383.5 75.7L385.7 74.9L384 74Z"/>
<path class="k" d="M385.7 76.9L387.3 77.8L389.5 77.1L389.5 75L387.8 74.1L385.7 74.8Z"/><path class="kl" d="M385.7 76.9L387.3 77.8L387.3 75.8L385.7 74.8Z"/><path class="kt" d="M385.7 74.8L387.3 75.8L389.5 75L387.8 74.1Z"/>
<path class="k" d="M383.5 77.6L385.2 78.5L387.3 77.8L387.3 72.9L385.7 72L383.5 72.7Z"/><path class="kl" d="M383.5 77.6L385.2 78.5L385.2 73.7L383.5 72.7Z"/><path class="kt" d="M383.5 72.7L385.2 73.7L387.3 72.9L385.7 72Z"/>
<path class="k" d="M375.8 77.1L377.5 78.1L379.6 77.4L379.6 75.9L378 75L375.8 75.7Z"/><path class="kl" d="M375.8 77.1L377.5 78.1L377.5 76.6L375.8 75.7Z"/><path class="kt" d="M375.8 75.7L377.5 76.6L379.6 75.9L378 75Z"/>
<path class="k" d="M379.6 77.4L381.3 78.3L383.5 77.6L383.5 73.8L381.8 72.8L379.6 73.6Z"/><path class="kl" d="M379.6 77.4L381.3 78.3L381.3 74.5L379.6 73.6Z"/><path class="kt" d="M379.6 73.6L381.3 74.5L383.5 73.8L381.8 72.8Z"/>
<path class="k" d="M391.2 78L392.9 79L395 78.3L395 76.6L393.4 75.7L391.2 76.4Z"/><path class="kl" d="M391.2 78L392.9 79L392.9 77.4L391.2 76.4Z"/><path class="kt" d="M391.2 76.4L392.9 77.4L395 76.6L393.4 75.7Z"/>
<path class="k" d="M387.3 77.8L389 78.8L391.2 78L391.2 74.6L389.5 73.6L387.3 74.4Z"/><path class="kl" d="M387.3 77.8L389 78.8L389 75.3L387.3 74.4Z"/><path class="kt" d="M387.3 74.4L389 75.3L391.2 74.6L389.5 73.6Z"/>
<path class="k" d="M381.3 78.3L383 79.2L385.2 78.5L385.2 70L383.5 69L381.3 69.7Z"/><path class="kl" d="M381.3 78.3L383 79.2L383 70.7L381.3 69.7Z"/><path class="kt" d="M381.3 69.7L383 70.7L385.2 70L383.5 69Z"/>
<path class="k" d="M385.2 78.5L386.9 79.5L389 78.8L389 69.3L387.3 68.4L385.2 69.1Z"/><path class="kl" d="M385.2 78.5L386.9 79.5L386.9 70.1L385.2 69.1Z"/><path class="kt" d="M385.2 69.1L386.9 70.1L389 69.3L387.3 68.4Z"/>
<path class="k" d="M392.9 79L394.6 79.9L396.7 79.2L396.7 75L395 74.1L392.9 74.8Z"/><path class="kl" d="M392.9 79L394.6 79.9L394.6 75.8L392.9 74.8Z"/><path class="kt" d="M392.9 74.8L394.6 75.8L396.7 75L395 74.1Z"/>
<path class="k" d="M373.6 77.8L375.3 78.8L377.5 78.1L377.5 75L375.8 74.1L373.6 74.8Z"/><path class="kl" d="M373.6 77.8L375.3 78.8L375.3 75.7L373.6 74.8Z"/><path class="kt" d="M373.6 74.8L375.3 75.7L377.5 75L375.8 74.1Z"/>
<path class="k" d="M377.5 78.1L379.1 79L381.3 78.3L381.3 72.3L379.6 71.4L377.5 72.1Z"/><path class="kl" d="M377.5 78.1L379.1 79L379.1 73.1L377.5 72.1Z"/><path class="kt" d="M377.5 72.1L379.1 73.1L381.3 72.3L379.6 71.4Z"/>
<path class="k" d="M389 78.8L390.7 79.7L392.9 79L392.9 73.9L391.2 72.9L389 73.7Z"/><path class="kl" d="M389 78.8L390.7 79.7L390.7 74.6L389 73.7Z"/><path class="kt" d="M389 73.7L390.7 74.6L392.9 73.9L391.2 72.9Z"/>
<path class="k" d="M371.4 78.6L373.1 79.5L375.3 78.8L375.3 73.7L373.6 72.8L371.4 73.5Z"/><path class="kl" d="M371.4 78.6L373.1 79.5L373.1 74.4L371.4 73.5Z"/><path class="kt" d="M371.4 73.5L373.1 74.4L375.3 73.7L373.6 72.8Z"/>
<path class="k" d="M386.9 79.5L388.5 80.4L390.7 79.7L390.7 70.4L389 69.5L386.9 70.2Z"/><path class="kl" d="M386.9 79.5L388.5 80.4L388.5 71.1L386.9 70.2Z"/><path class="kt" d="M386.9 70.2L388.5 71.1L390.7 70.4L389 69.5Z"/>
<path class="k" d="M379.1 79L380.8 80L383 79.2L383 70.7L381.3 69.7L379.1 70.5Z"/><path class="kl" d="M379.1 79L380.8 80L380.8 71.4L379.1 70.5Z"/><path class="kt" d="M379.1 70.5L380.8 71.4L383 70.7L381.3 69.7Z"/>
<path class="k" d="M383 79.2L384.7 80.2L386.9 79.5L386.9 68L385.2 67.1L383 67.8Z"/><path class="kl" d="M383 79.2L384.7 80.2L384.7 68.7L383 67.8Z"/><path class="kt" d="M383 67.8L384.7 68.7L386.9 68L385.2 67.1Z"/>
<path class="k" d="M390.7 79.7L392.4 80.6L394.6 79.9L394.6 74.4L392.9 73.5L390.7 74.2Z"/><path class="kl" d="M390.7 79.7L392.4 80.6L392.4 75.1L390.7 74.2Z"/><path class="kt" d="M390.7 74.2L392.4 75.1L394.6 74.4L392.9 73.5Z"/>
<path class="k" d="M394.6 79.9L396.2 80.9L398.4 80.2L398.4 76.6L396.7 75.7L394.6 76.4Z"/><path class="kl" d="M394.6 79.9L396.2 80.9L396.2 77.4L394.6 76.4Z"/><path class="kt" d="M394.6 76.4L396.2 77.4L398.4 76.6L396.7 75.7Z"/>
<path class="k" d="M375.3 78.8L377 79.7L379.1 79L379.1 73.8L377.5 72.9L375.3 73.6Z"/><path class="kl" d="M375.3 78.8L377 79.7L377 74.5L375.3 73.6Z"/><path class="kt" d="M375.3 73.6L377 74.5L379.1 73.8L377.5 72.9Z"/>
<path class="k" d="M388.5 80.4L390.2 81.4L392.4 80.6L392.4 70.4L390.7 69.5L388.5 70.2Z"/><path class="kl" d="M388.5 80.4L390.2 81.4L390.2 71.1L388.5 70.2Z"/><path class="kt" d="M388.5 70.2L390.2 71.1L392.4 70.4L390.7 69.5Z"/>
<path class="k" d="M369.3 79.3L371 80.2L373.1 79.5L373.1 76.4L371.4 75.4L369.3 76.2Z"/><path class="kl" d="M369.3 79.3L371 80.2L371 77.1L369.3 76.2Z"/><path class="kt" d="M369.3 76.2L371 77.1L373.1 76.4L371.4 75.4Z"/>
<path class="k" d="M373.1 79.5L374.8 80.5L377 79.7L377 70.9L375.3 69.9L373.1 70.6Z"/><path class="kl" d="M373.1 79.5L374.8 80.5L374.8 71.6L373.1 70.6Z"/><path class="kt" d="M373.1 70.6L374.8 71.6L377 70.9L375.3 69.9Z"/>
<path class="k" d="M384.7 80.2L386.4 81.1L388.5 80.4L388.5 64.8L386.9 63.8L384.7 64.6Z"/><path class="kl" d="M384.7 80.2L386.4 81.1L386.4 65.5L384.7 64.6Z"/><path class="kt" d="M384.7 64.6L386.4 65.5L388.5 64.8L386.9 63.8Z"/>
<path class="k" d="M396.2 80.9L397.9 81.8L400.1 81.1L400.1 76.8L398.4 75.8L396.2 76.6Z"/><path class="kl" d="M396.2 80.9L397.9 81.8L397.9 77.5L396.2 76.6Z"/><path class="kt" d="M396.2 76.6L397.9 77.5L400.1 76.8L398.4 75.8Z"/>
<path class="k" d="M377 79.7L378.7 80.7L380.8 80L380.8 70.6L379.1 69.6L377 70.3Z"/><path class="kl" d="M377 79.7L378.7 80.7L378.7 71.3L377 70.3Z"/><path class="kt" d="M377 70.3L378.7 71.3L380.8 70.6L379.1 69.6Z"/>
<path class="k" d="M380.8 80L382.5 80.9L384.7 80.2L384.7 70.8L383 69.9L380.8 70.6Z"/><path class="kl" d="M380.8 80L382.5 80.9L382.5 71.6L380.8 70.6Z"/><path class="kt" d="M380.8 70.6L382.5 71.6L384.7 70.8L383 69.9Z"/>
<path class="k" d="M392.4 80.6L394.1 81.6L396.2 80.9L396.2 74.4L394.6 73.5L392.4 74.2Z"/><path class="kl" d="M392.4 80.6L394.1 81.6L394.1 75.1L392.4 74.2Z"/><path class="kt" d="M392.4 74.2L394.1 75.1L396.2 74.4L394.6 73.5Z"/>
<path class="k" d="M367.1 80L368.8 81L371 80.2L371 75.6L369.3 74.7L367.1 75.4Z"/><path class="kl" d="M367.1 80L368.8 81L368.8 76.4L367.1 75.4Z"/><path class="kt" d="M367.1 75.4L368.8 76.4L371 75.6L369.3 74.7Z"/>
<path class="k" d="M374.8 80.5L376.5 81.4L378.7 80.7L378.7 69.9L377 69L374.8 69.7Z"/><path class="kl" d="M374.8 80.5L376.5 81.4L376.5 70.6L374.8 69.7Z"/><path class="kt" d="M374.8 69.7L376.5 70.6L378.7 69.9L377 69Z"/>
<path class="k" d="M386.4 81.1L388 82.1L390.2 81.4L390.2 62.9L388.5 62L386.4 62.7Z"/><path class="kl" d="M386.4 81.1L388 82.1L388 63.7L386.4 62.7Z"/><path class="kt" d="M386.4 62.7L388 63.7L390.2 62.9L388.5 62Z"/>
<path class="k" d="M390.2 81.4L391.9 82.3L394.1 81.6L394.1 70.2L392.4 69.2L390.2 70Z"/><path class="kl" d="M390.2 81.4L391.9 82.3L391.9 70.9L390.2 70Z"/><path class="kt" d="M390.2 70L391.9 70.9L394.1 70.2L392.4 69.2Z"/>
<path class="k" d="M397.9 81.8L399.6 82.8L401.8 82L401.8 77.7L400.1 76.7L397.9 77.4Z"/><path class="kl" d="M397.9 81.8L399.6 82.8L399.6 78.4L397.9 77.4Z"/><path class="kt" d="M397.9 77.4L399.6 78.4L401.8 77.7L400.1 76.7Z"/>
<path class="k" d="M371 80.2L372.6 81.2L374.8 80.5L374.8 69.8L373.1 68.9L371 69.6Z"/><path class="kl" d="M371 80.2L372.6 81.2L372.6 70.6L371 69.6Z"/><path class="kt" d="M371 69.6L372.6 70.6L374.8 69.8L373.1 68.9Z"/>
<path class="k" d="M382.5 80.9L384.2 81.9L386.4 81.1L386.4 61.8L384.7 60.8L382.5 61.5Z"/><path class="kl" d="M382.5 80.9L384.2 81.9L384.2 62.5L382.5 61.5Z"/><path class="kt" d="M382.5 61.5L384.2 62.5L386.4 61.8L384.7 60.8Z"/>
<path class="k" d="M394.1 81.6L395.7 82.5L397.9 81.8L397.9 73.8L396.2 72.9L394.1 73.6Z"/><path class="kl" d="M394.1 81.6L395.7 82.5L395.7 74.5L394.1 73.6Z"/><path class="kt" d="M394.1 73.6L395.7 74.5L397.9 73.8L396.2 72.9Z"/>
<path class="k" d="M378.7 80.7L380.3 81.6L382.5 80.9L382.5 60.7L380.8 59.7L378.7 60.5Z"/><path class="kl" d="M378.7 80.7L380.3 81.6L380.3 61.4L378.7 60.5Z"/><path class="kt" d="M378.7 60.5L380.3 61.4L382.5 60.7L380.8 59.7Z"/>
<path class="k" d="M391.9 82.3L393.6 83.3L395.7 82.5L395.7 67.5L394.1 66.5L391.9 67.2Z"/><path class="kl" d="M391.9 82.3L393.6 83.3L393.6 68.2L391.9 67.2Z"/><path class="kt" d="M391.9 67.2L393.6 68.2L395.7 67.5L394.1 66.5Z"/>
<path class="k" d="M364.9 80.7L366.6 81.7L368.8 81L368.8 78.3L367.1 77.4L364.9 78.1Z"/><path class="kl" d="M364.9 80.7L366.6 81.7L366.6 79L364.9 78.1Z"/><path class="kt" d="M364.9 78.1L366.6 79L368.8 78.3L367.1 77.4Z"/>
<path class="k" d="M368.8 81L370.5 81.9L372.6 81.2L372.6 75.2L371 74.2L368.8 74.9Z"/><path class="kl" d="M368.8 81L370.5 81.9L370.5 75.9L368.8 74.9Z"/><path class="kt" d="M368.8 74.9L370.5 75.9L372.6 75.2L371 74.2Z"/>
<path class="k" d="M372.6 81.2L374.3 82.1L376.5 81.4L376.5 64.9L374.8 64L372.6 64.7Z"/><path class="kl" d="M372.6 81.2L374.3 82.1L374.3 65.7L372.6 64.7Z"/><path class="kt" d="M372.6 64.7L374.3 65.7L376.5 64.9L374.8 64Z"/>
<path class="k" d="M376.5 81.4L378.2 82.4L380.3 81.6L380.3 68.8L378.7 67.8L376.5 68.6Z"/><path class="kl" d="M376.5 81.4L378.2 82.4L378.2 69.5L376.5 68.6Z"/><path class="kt" d="M376.5 68.6L378.2 69.5L380.3 68.8L378.7 67.8Z"/>
<path class="k" d="M384.2 81.9L385.9 82.8L388 82.1L388 67.8L386.4 66.9L384.2 67.6Z"/><path class="kl" d="M384.2 81.9L385.9 82.8L385.9 68.5L384.2 67.6Z"/><path class="kt" d="M384.2 67.6L385.9 68.5L388 67.8L386.4 66.9Z"/>
<path class="k" d="M388 82.1L389.7 83L391.9 82.3L391.9 69.9L390.2 68.9L388 69.6Z"/><path class="kl" d="M388 82.1L389.7 83L389.7 70.6L388 69.6Z"/><path class="kt" d="M388 69.6L389.7 70.6L391.9 69.9L390.2 68.9Z"/>
<path class="k" d="M395.7 82.5L397.4 83.5L399.6 82.8L399.6 72L397.9 71.1L395.7 71.8Z"/><path class="kl" d="M395.7 82.5L397.4 83.5L397.4 72.7L395.7 71.8Z"/><path class="kt" d="M395.7 71.8L397.4 72.7L399.6 72L397.9 71.1Z"/>
<path class="k" d="M399.6 82.8L401.3 83.7L403.5 83L403.5 80L401.8 79L399.6 79.7Z"/><path class="kl" d="M399.6 82.8L401.3 83.7L401.3 80.7L399.6 79.7Z"/><path class="kt" d="M399.6 79.7L401.3 80.7L403.5 80L401.8 79Z"/>
<path class="k" d="M380.3 81.6L382 82.6L384.2 81.9L384.2 65.7L382.5 64.8L380.3 65.5Z"/><path class="kl" d="M380.3 81.6L382 82.6L382 66.5L380.3 65.5Z"/><path class="kt" d="M380.3 65.5L382 66.5L384.2 65.7L382.5 64.8Z"/>
<path class="k" d="M393.6 83.3L395.3 84.2L397.4 83.5L397.4 65.4L395.7 64.4L393.6 65.1Z"/><path class="kl" d="M393.6 83.3L395.3 84.2L395.3 66.1L393.6 65.1Z"/><path class="kt" d="M393.6 65.1L395.3 66.1L397.4 65.4L395.7 64.4Z"/>
<path class="k" d="M401.3 83.7L403 84.7L405.1 83.9L405.1 82.1L403.5 81.2L401.3 81.9Z"/><path class="kl" d="M401.3 83.7L403 84.7L403 82.8L401.3 81.9Z"/><path class="kt" d="M401.3 81.9L403 82.8L405.1 82.1L403.5 81.2Z"/>
<path class="k" d="M362.8 81.4L364.4 82.4L366.6 81.7L366.6 79.5L364.9 78.6L362.8 79.3Z"/><path class="kl" d="M362.8 81.4L364.4 82.4L364.4 80.3L362.8 79.3Z"/><path class="kt" d="M362.8 79.3L364.4 80.3L366.6 79.5L364.9 78.6Z"/>
<path class="k" d="M370.5 81.9L372.1 82.8L374.3 82.1L374.3 73.8L372.6 72.9L370.5 73.6Z"/><path class="kl" d="M370.5 81.9L372.1 82.8L372.1 74.5L370.5 73.6Z"/><path class="kt" d="M370.5 73.6L372.1 74.5L374.3 73.8L372.6 72.9Z"/>
<path class="k" d="M378.2 82.4L379.8 83.3L382 82.6L382 65.8L380.3 64.9L378.2 65.6Z"/><path class="kl" d="M378.2 82.4L379.8 83.3L379.8 66.6L378.2 65.6Z"/><path class="kt" d="M378.2 65.6L379.8 66.6L382 65.8L380.3 64.9Z"/>
<path class="k" d="M389.7 83L391.4 84L393.6 83.3L393.6 59.8L391.9 58.9L389.7 59.6Z"/><path class="kl" d="M389.7 83L391.4 84L391.4 60.5L389.7 59.6Z"/><path class="kt" d="M389.7 59.6L391.4 60.5L393.6 59.8L391.9 58.9Z"/>
<path class="k" d="M366.6 81.7L368.3 82.6L370.5 81.9L370.5 75.3L368.8 74.4L366.6 75.1Z"/><path class="kl" d="M366.6 81.7L368.3 82.6L368.3 76L366.6 75.1Z"/><path class="kt" d="M366.6 75.1L368.3 76L370.5 75.3L368.8 74.4Z"/>
<path class="k" d="M374.3 82.1L376 83.1L378.2 82.4L378.2 65.1L376.5 64.2L374.3 64.9Z"/><path class="kl" d="M374.3 82.1L376 83.1L376 65.9L374.3 64.9Z"/><path class="kt" d="M374.3 64.9L376 65.9L378.2 65.1L376.5 64.2Z"/>
<path class="k" d="M382 82.6L383.7 83.5L385.9 82.8L385.9 60.8L384.2 59.9L382 60.6Z"/><path class="kl" d="M382 82.6L383.7 83.5L383.7 61.5L382 60.6Z"/><path class="kt" d="M382 60.6L383.7 61.5L385.9 60.8L384.2 59.9Z"/>
<path class="k" d="M385.9 82.8L387.6 83.8L389.7 83L389.7 52.3L388 51.4L385.9 52.1Z"/><path class="kl" d="M385.9 82.8L387.6 83.8L387.6 53.1L385.9 52.1Z"/><path class="kt" d="M385.9 52.1L387.6 53.1L389.7 52.3L388 51.4Z"/>
<path class="k" d="M397.4 83.5L399.1 84.4L401.3 83.7L401.3 74L399.6 73L397.4 73.7Z"/><path class="kl" d="M397.4 83.5L399.1 84.4L399.1 74.7L397.4 73.7Z"/><path class="kt" d="M397.4 73.7L399.1 74.7L401.3 74L399.6 73Z"/>
<path class="k" d="M379.8 83.3L381.5 84.2L383.7 83.5L383.7 64.2L382 63.2L379.8 64Z"/><path class="kl" d="M379.8 83.3L381.5 84.2L381.5 64.9L379.8 64Z"/><path class="kt" d="M379.8 64L381.5 64.9L383.7 64.2L382 63.2Z"/>
<path class="k" d="M391.4 84L393.1 84.9L395.3 84.2L395.3 61.3L393.6 60.3L391.4 61.1Z"/><path class="kl" d="M391.4 84L393.1 84.9L393.1 62L391.4 61.1Z"/><path class="kt" d="M391.4 61.1L393.1 62L395.3 61.3L393.6 60.3Z"/>
<path class="k" d="M395.3 84.2L396.9 85.2L399.1 84.4L399.1 68.9L397.4 68L395.3 68.7Z"/><path class="kl" d="M395.3 84.2L396.9 85.2L396.9 69.7L395.3 68.7Z"/><path class="kt" d="M395.3 68.7L396.9 69.7L399.1 68.9L397.4 68Z"/>
<path class="k" d="M399.1 84.4L400.8 85.4L403 84.7L403 76.8L401.3 75.8L399.1 76.5Z"/><path class="kl" d="M399.1 84.4L400.8 85.4L400.8 77.5L399.1 76.5Z"/><path class="kt" d="M399.1 76.5L400.8 77.5L403 76.8L401.3 75.8Z"/>
<path class="k" d="M364.4 82.4L366.1 83.3L368.3 82.6L368.3 77.1L366.6 76.2L364.4 76.9Z"/><path class="kl" d="M364.4 82.4L366.1 83.3L366.1 77.8L364.4 76.9Z"/><path class="kt" d="M364.4 76.9L366.1 77.8L368.3 77.1L366.6 76.2Z"/>
<path class="k" d="M368.3 82.6L370 83.6L372.1 82.8L372.1 71.7L370.5 70.8L368.3 71.5Z"/><path class="kl" d="M368.3 82.6L370 83.6L370 72.5L368.3 71.5Z"/><path class="kt" d="M368.3 71.5L370 72.5L372.1 71.7L370.5 70.8Z"/>
<path class="k" d="M372.1 82.8L373.8 83.8L376 83.1L376 68.8L374.3 67.9L372.1 68.6Z"/><path class="kl" d="M372.1 82.8L373.8 83.8L373.8 69.5L372.1 68.6Z"/><path class="kt" d="M372.1 68.6L373.8 69.5L376 68.8L374.3 67.9Z"/>
<path class="k" d="M376 83.1L377.7 84L379.8 83.3L379.8 55.3L378.2 54.4L376 55.1Z"/><path class="kl" d="M376 83.1L377.7 84L377.7 56L376 55.1Z"/><path class="kt" d="M376 55.1L377.7 56L379.8 55.3L378.2 54.4Z"/>
<path class="k" d="M387.6 83.8L389.2 84.7L391.4 84L391.4 67.7L389.7 66.7L387.6 67.4Z"/><path class="kl" d="M387.6 83.8L389.2 84.7L389.2 68.4L387.6 67.4Z"/><path class="kt" d="M387.6 67.4L389.2 68.4L391.4 67.7L389.7 66.7Z"/>
<path class="k" d="M383.7 83.5L385.4 84.5L387.6 83.8L387.6 63.7L385.9 62.8L383.7 63.5Z"/><path class="kl" d="M383.7 83.5L385.4 84.5L385.4 64.5L383.7 63.5Z"/><path class="kt" d="M383.7 63.5L385.4 64.5L387.6 63.7L385.9 62.8Z"/>
<path class="k" d="M396.9 85.2L398.6 86.1L400.8 85.4L400.8 75.7L399.1 74.8L396.9 75.5Z"/><path class="kl" d="M396.9 85.2L398.6 86.1L398.6 76.4L396.9 75.5Z"/><path class="kt" d="M396.9 75.5L398.6 76.4L400.8 75.7L399.1 74.8Z"/>
<path class="k" d="M366.1 83.3L367.8 84.3L370 83.6L370 70.9L368.3 70L366.1 70.7Z"/><path class="kl" d="M366.1 83.3L367.8 84.3L367.8 71.7L366.1 70.7Z"/><path class="kt" d="M366.1 70.7L367.8 71.7L370 70.9L368.3 70Z"/>
<path class="k" d="M373.8 83.8L375.5 84.7L377.7 84L377.7 66.4L376 65.5L373.8 66.2Z"/><path class="kl" d="M373.8 83.8L375.5 84.7L375.5 67.2L373.8 66.2Z"/><path class="kt" d="M373.8 66.2L375.5 67.2L377.7 66.4L376 65.5Z"/>
<path class="k" d="M377.7 84L379.4 85L381.5 84.2L381.5 63.1L379.8 62.2L377.7 62.9Z"/><path class="kl" d="M377.7 84L379.4 85L379.4 63.8L377.7 62.9Z"/><path class="kt" d="M377.7 62.9L379.4 63.8L381.5 63.1L379.8 62.2Z"/>
<path class="k" d="M381.5 84.2L383.2 85.2L385.4 84.5L385.4 42.5L383.7 41.5L381.5 42.2Z"/><path class="kl" d="M381.5 84.2L383.2 85.2L383.2 43.2L381.5 42.2Z"/><path class="kt" d="M381.5 42.2L383.2 43.2L385.4 42.5L383.7 41.5Z"/>
<path class="k" d="M389.2 84.7L390.9 85.6L393.1 84.9L393.1 63.4L391.4 62.5L389.2 63.2Z"/><path class="kl" d="M389.2 84.7L390.9 85.6L390.9 64.1L389.2 63.2Z"/><path class="kt" d="M389.2 63.2L390.9 64.1L393.1 63.4L391.4 62.5Z"/>
<path class="k" d="M393.1 84.9L394.8 85.9L396.9 85.2L396.9 65.2L395.3 64.3L393.1 65Z"/><path class="kl" d="M393.1 84.9L394.8 85.9L394.8 65.9L393.1 65Z"/><path class="kt" d="M393.1 65L394.8 65.9L396.9 65.2L395.3 64.3Z"/>
<path class="k" d="M400.8 85.4L402.5 86.3L404.6 85.6L404.6 82.4L403 81.4L400.8 82.2Z"/><path class="kl" d="M400.8 85.4L402.5 86.3L402.5 83.1L400.8 82.2Z"/><path class="kt" d="M400.8 82.2L402.5 83.1L404.6 82.4L403 81.4Z"/>
<path class="k" d="M362.3 83.1L364 84.1L366.1 83.3L366.1 78.5L364.4 77.6L362.3 78.3Z"/><path class="kl" d="M362.3 83.1L364 84.1L364 79.3L362.3 78.3Z"/><path class="kt" d="M362.3 78.3L364 79.3L366.1 78.5L364.4 77.6Z"/>
<path class="k" d="M370 83.6L371.7 84.5L373.8 83.8L373.8 73L372.1 72L370 72.7Z"/><path class="kl" d="M370 83.6L371.7 84.5L371.7 73.7L370 72.7Z"/><path class="kt" d="M370 72.7L371.7 73.7L373.8 73L372.1 72Z"/>
<path class="k" d="M385.4 84.5L387.1 85.4L389.2 84.7L389.2 47.8L387.6 46.9L385.4 47.6Z"/><path class="kl" d="M385.4 84.5L387.1 85.4L387.1 48.5L385.4 47.6Z"/><path class="kt" d="M385.4 47.6L387.1 48.5L389.2 47.8L387.6 46.9Z"/>
<path class="k" d="M394.8 85.9L396.4 86.8L398.6 86.1L398.6 68.4L396.9 67.5L394.8 68.2Z"/><path class="kl" d="M394.8 85.9L396.4 86.8L396.4 69.1L394.8 68.2Z"/><path class="kt" d="M394.8 68.2L396.4 69.1L398.6 68.4L396.9 67.5Z"/>
<path class="k" d="M398.6 86.1L400.3 87L402.5 86.3L402.5 79.6L400.8 78.7L398.6 79.4Z"/><path class="kl" d="M398.6 86.1L400.3 87L400.3 80.4L398.6 79.4Z"/><path class="kt" d="M398.6 79.4L400.3 80.4L402.5 79.6L400.8 78.7Z"/>
<path class="k" d="M375.5 84.7L377.2 85.7L379.4 85L379.4 60.1L377.7 59.1L375.5 59.9Z"/><path class="kl" d="M375.5 84.7L377.2 85.7L377.2 60.8L375.5 59.9Z"/><path class="kt" d="M375.5 59.9L377.2 60.8L379.4 60.1L377.7 59.1Z"/>
<path class="k" d="M383.2 85.2L384.9 86.1L387.1 85.4L387.1 42.8L385.4 41.9L383.2 42.6Z"/><path class="kl" d="M383.2 85.2L384.9 86.1L384.9 43.5L383.2 42.6Z"/><path class="kt" d="M383.2 42.6L384.9 43.5L387.1 42.8L385.4 41.9Z"/>
<path class="k" d="M360.1 83.8L361.8 84.8L364 84.1L364 82.3L362.3 81.4L360.1 82.1Z"/><path class="kl" d="M360.1 83.8L361.8 84.8L361.8 83L360.1 82.1Z"/><path class="kt" d="M360.1 82.1L361.8 83L364 82.3L362.3 81.4Z"/>
<path class="k" d="M364 84.1L365.6 85L367.8 84.3L367.8 79.2L366.1 78.2L364 78.9Z"/><path class="kl" d="M364 84.1L365.6 85L365.6 79.9L364 78.9Z"/><path class="kt" d="M364 78.9L365.6 79.9L367.8 79.2L366.1 78.2Z"/>
<path class="k" d="M367.8 84.3L369.5 85.2L371.7 84.5L371.7 66L370 65.1L367.8 65.8Z"/><path class="kl" d="M367.8 84.3L369.5 85.2L369.5 66.7L367.8 65.8Z"/><path class="kt" d="M367.8 65.8L369.5 66.7L371.7 66L370 65.1Z"/>
<path class="k" d="M371.7 84.5L373.3 85.5L375.5 84.7L375.5 65.7L373.8 64.8L371.7 65.5Z"/><path class="kl" d="M371.7 84.5L373.3 85.5L373.3 66.4L371.7 65.5Z"/><path class="kt" d="M371.7 65.5L373.3 66.4L375.5 65.7L373.8 64.8Z"/>
<path class="k" d="M379.4 85L381 85.9L383.2 85.2L383.2 62.3L381.5 61.3L379.4 62Z"/><path class="kl" d="M379.4 85L381 85.9L381 63L379.4 62Z"/><path class="kt" d="M379.4 62L381 63L383.2 62.3L381.5 61.3Z"/>
<path class="k" d="M387.1 85.4L388.7 86.4L390.9 85.6L390.9 54.2L389.2 53.3L387.1 54Z"/><path class="kl" d="M387.1 85.4L388.7 86.4L388.7 54.9L387.1 54Z"/><path class="kt" d="M387.1 54L388.7 54.9L390.9 54.2L389.2 53.3Z"/>
<path class="k" d="M390.9 85.6L392.6 86.6L394.8 85.9L394.8 65.9L393.1 64.9L390.9 65.6Z"/><path class="kl" d="M390.9 85.6L392.6 86.6L392.6 66.6L390.9 65.6Z"/><path class="kt" d="M390.9 65.6L392.6 66.6L394.8 65.9L393.1 64.9Z"/>
<path class="k" d="M402.5 86.3L404.2 87.3L406.3 86.6L406.3 85.2L404.6 84.3L402.5 85Z"/><path class="kl" d="M402.5 86.3L404.2 87.3L404.2 85.9L402.5 85Z"/><path class="kt" d="M402.5 85L404.2 85.9L406.3 85.2L404.6 84.3Z"/>
<path class="k" d="M384.9 86.1L386.6 87.1L388.7 86.4L388.7 59.6L387.1 58.7L384.9 59.4Z"/><path class="kl" d="M384.9 86.1L386.6 87.1L386.6 60.3L384.9 59.4Z"/><path class="kt" d="M384.9 59.4L386.6 60.3L388.7 59.6L387.1 58.7Z"/>
<path class="k" d="M392.6 86.6L394.3 87.5L396.4 86.8L396.4 66.8L394.8 65.8L392.6 66.6Z"/><path class="kl" d="M392.6 86.6L394.3 87.5L394.3 67.5L392.6 66.6Z"/><path class="kt" d="M392.6 66.6L394.3 67.5L396.4 66.8L394.8 65.8Z"/>
<path class="k" d="M396.4 86.8L398.1 87.8L400.3 87L400.3 78.5L398.6 77.5L396.4 78.3Z"/><path class="kl" d="M396.4 86.8L398.1 87.8L398.1 79.2L396.4 78.3Z"/><path class="kt" d="M396.4 78.3L398.1 79.2L400.3 78.5L398.6 77.5Z"/>
<path class="k" d="M400.3 87L402 88L404.2 87.3L404.2 83.6L402.5 82.7L400.3 83.4Z"/><path class="kl" d="M400.3 87L402 88L402 84.3L400.3 83.4Z"/><path class="kt" d="M400.3 83.4L402 84.3L404.2 83.6L402.5 82.7Z"/>
<path class="k" d="M361.8 84.8L363.5 85.7L365.6 85L365.6 79.3L364 78.3L361.8 79Z"/><path class="kl" d="M361.8 84.8L363.5 85.7L363.5 80L361.8 79Z"/><path class="kt" d="M361.8 79L363.5 80L365.6 79.3L364 78.3Z"/>
<path class="k" d="M369.5 85.2L371.2 86.2L373.3 85.5L373.3 72.5L371.7 71.6L369.5 72.3Z"/><path class="kl" d="M369.5 85.2L371.2 86.2L371.2 73.3L369.5 72.3Z"/><path class="kt" d="M369.5 72.3L371.2 73.3L373.3 72.5L371.7 71.6Z"/>
<path class="k" d="M373.3 85.5L375 86.4L377.2 85.7L377.2 56.7L375.5 55.7L373.3 56.4Z"/><path class="kl" d="M373.3 85.5L375 86.4L375 57.4L373.3 56.4Z"/><path class="kt" d="M373.3 56.4L375 57.4L377.2 56.7L375.5 55.7Z"/>
<path class="k" d="M377.2 85.7L378.9 86.6L381 85.9L381 60.2L379.4 59.2L377.2 60Z"/><path class="kl" d="M377.2 85.7L378.9 86.6L378.9 60.9L377.2 60Z"/><path class="kt" d="M377.2 60L378.9 60.9L381 60.2L379.4 59.2Z"/>
<path class="k" d="M381 85.9L382.7 86.9L384.9 86.1L384.9 32.8L383.2 31.8L381 32.5Z"/><path class="kl" d="M381 85.9L382.7 86.9L382.7 33.5L381 32.5Z"/><path class="kt" d="M381 32.5L382.7 33.5L384.9 32.8L383.2 31.8Z"/>
<path class="k" d="M365.6 85L367.3 86L369.5 85.2L369.5 77.5L367.8 76.6L365.6 77.3Z"/><path class="kl" d="M365.6 85L367.3 86L367.3 78.2L365.6 77.3Z"/><path class="kt" d="M365.6 77.3L367.3 78.2L369.5 77.5L367.8 76.6Z"/>
<path class="k" d="M388.7 86.4L390.4 87.3L392.6 86.6L392.6 67L390.9 66L388.7 66.8Z"/><path class="kl" d="M388.7 86.4L390.4 87.3L390.4 67.7L388.7 66.8Z"/><path class="kt" d="M388.7 66.8L390.4 67.7L392.6 67L390.9 66Z"/>
<path class="k" d="M359.6 85.5L361.3 86.4L363.5 85.7L363.5 83.7L361.8 82.8L359.6 83.5Z"/><path class="kl" d="M359.6 85.5L361.3 86.4L361.3 84.5L359.6 83.5Z"/><path class="kt" d="M359.6 83.5L361.3 84.5L363.5 83.7L361.8 82.8Z"/>
<path class="k" d="M371.2 86.2L372.8 87.1L375 86.4L375 70.5L373.3 69.6L371.2 70.3Z"/><path class="kl" d="M371.2 86.2L372.8 87.1L372.8 71.2L371.2 70.3Z"/><path class="kt" d="M371.2 70.3L372.8 71.2L375 70.5L373.3 69.6Z"/>
<path class="k" d="M378.9 86.6L380.6 87.6L382.7 86.9L382.7 54.2L381 53.2L378.9 54Z"/><path class="kl" d="M378.9 86.6L380.6 87.6L380.6 54.9L378.9 54Z"/><path class="kt" d="M378.9 54L380.6 54.9L382.7 54.2L381 53.2Z"/>
<path class="k" d="M382.7 86.9L384.4 87.8L386.6 87.1L386.6 46.1L384.9 45.1L382.7 45.9Z"/><path class="kl" d="M382.7 86.9L384.4 87.8L384.4 46.8L382.7 45.9Z"/><path class="kt" d="M382.7 45.9L384.4 46.8L386.6 46.1L384.9 45.1Z"/>
<path class="k" d="M386.6 87.1L388.3 88L390.4 87.3L390.4 52.5L388.7 51.5L386.6 52.2Z"/><path class="kl" d="M386.6 87.1L388.3 88L388.3 53.2L386.6 52.2Z"/><path class="kt" d="M386.6 52.2L388.3 53.2L390.4 52.5L388.7 51.5Z"/>
<path class="k" d="M390.4 87.3L392.1 88.3L394.3 87.5L394.3 69.1L392.6 68.1L390.4 68.9Z"/><path class="kl" d="M390.4 87.3L392.1 88.3L392.1 69.8L390.4 68.9Z"/><path class="kt" d="M390.4 68.9L392.1 69.8L394.3 69.1L392.6 68.1Z"/>
<path class="k" d="M394.3 87.5L396 88.5L398.1 87.8L398.1 68.8L396.4 67.8L394.3 68.5Z"/><path class="kl" d="M394.3 87.5L396 88.5L396 69.5L394.3 68.5Z"/><path class="kt" d="M394.3 68.5L396 69.5L398.1 68.8L396.4 67.8Z"/>
<path class="k" d="M398.1 87.8L399.8 88.7L402 88L402 80.3L400.3 79.4L398.1 80.1Z"/><path class="kl" d="M398.1 87.8L399.8 88.7L399.8 81L398.1 80.1Z"/><path class="kt" d="M398.1 80.1L399.8 81L402 80.3L400.3 79.4Z"/>
<path class="k" d="M363.5 85.7L365.1 86.7L367.3 86L367.3 77.9L365.6 77L363.5 77.7Z"/><path class="kl" d="M363.5 85.7L365.1 86.7L365.1 78.6L363.5 77.7Z"/><path class="kt" d="M363.5 77.7L365.1 78.6L367.3 77.9L365.6 77Z"/>
<path class="k" d="M367.3 86L369 86.9L371.2 86.2L371.2 68.1L369.5 67.2L367.3 67.9Z"/><path class="kl" d="M367.3 86L369 86.9L369 68.9L367.3 67.9Z"/><path class="kt" d="M367.3 67.9L369 68.9L371.2 68.1L369.5 67.2Z"/>
<path class="k" d="M375 86.4L376.7 87.4L378.9 86.6L378.9 63.8L377.2 62.8L375 63.5Z"/><path class="kl" d="M375 86.4L376.7 87.4L376.7 64.5L375 63.5Z"/><path class="kt" d="M375 63.5L376.7 64.5L378.9 63.8L377.2 62.8Z"/>
<path class="k" d="M388.3 88L389.9 89L392.1 88.3L392.1 71.9L390.4 70.9L388.3 71.6Z"/><path class="kl" d="M388.3 88L389.9 89L389.9 72.6L388.3 71.6Z"/><path class="kt" d="M388.3 71.6L389.9 72.6L392.1 71.9L390.4 70.9Z"/>
<path class="k" d="M380.6 87.6L382.2 88.5L384.4 87.8L384.4 54L382.7 53L380.6 53.7Z"/><path class="kl" d="M380.6 87.6L382.2 88.5L382.2 54.7L380.6 53.7Z"/><path class="kt" d="M380.6 53.7L382.2 54.7L384.4 54L382.7 53Z"/>
<path class="k" d="M361.3 86.4L363 87.4L365.1 86.7L365.1 83.9L363.5 83L361.3 83.7Z"/><path class="kl" d="M361.3 86.4L363 87.4L363 84.7L361.3 83.7Z"/><path class="kt" d="M361.3 83.7L363 84.7L365.1 83.9L363.5 83Z"/>
<path class="k" d="M365.1 86.7L366.8 87.6L369 86.9L369 75.5L367.3 74.5L365.1 75.2Z"/><path class="kl" d="M365.1 86.7L366.8 87.6L366.8 76.2L365.1 75.2Z"/><path class="kt" d="M365.1 75.2L366.8 76.2L369 75.5L367.3 74.5Z"/>
<path class="k" d="M369 86.9L370.7 87.8L372.8 87.1L372.8 66.4L371.2 65.4L369 66.1Z"/><path class="kl" d="M369 86.9L370.7 87.8L370.7 67.1L369 66.1Z"/><path class="kt" d="M369 66.1L370.7 67.1L372.8 66.4L371.2 65.4Z"/>
<path class="k" d="M372.8 87.1L374.5 88.1L376.7 87.4L376.7 64.4L375 63.4L372.8 64.1Z"/><path class="kl" d="M372.8 87.1L374.5 88.1L374.5 65.1L372.8 64.1Z"/><path class="kt" d="M372.8 64.1L374.5 65.1L376.7 64.4L375 63.4Z"/>
<path class="k" d="M376.7 87.4L378.4 88.3L380.6 87.6L380.6 53.1L378.9 52.2L376.7 52.9Z"/><path class="kl" d="M376.7 87.4L378.4 88.3L378.4 53.8L376.7 52.9Z"/><path class="kt" d="M376.7 52.9L378.4 53.8L380.6 53.1L378.9 52.2Z"/>
<path class="k" d="M384.4 87.8L386.1 88.8L388.3 88L388.3 49.3L386.6 48.4L384.4 49.1Z"/><path class="kl" d="M384.4 87.8L386.1 88.8L386.1 50L384.4 49.1Z"/><path class="kt" d="M384.4 49.1L386.1 50L388.3 49.3L386.6 48.4Z"/>
<path class="k" d="M392.1 88.3L393.8 89.2L396 88.5L396 66.2L394.3 65.3L392.1 66Z"/><path class="kl" d="M392.1 88.3L393.8 89.2L393.8 67L392.1 66Z"/><path class="kt" d="M392.1 66L393.8 67L396 66.2L394.3 65.3Z"/>
<path class="k" d="M396 88.5L397.6 89.4L399.8 88.7L399.8 78.2L398.1 77.3L396 78Z"/><path class="kl" d="M396 88.5L397.6 89.4L397.6 79L396 78Z"/><path class="kt" d="M396 78L397.6 79L399.8 78.2L398.1 77.3Z"/>
<path class="k" d="M399.8 88.7L401.5 89.7L403.7 88.9L403.7 85L402 84.1L399.8 84.8Z"/><path class="kl" d="M399.8 88.7L401.5 89.7L401.5 85.7L399.8 84.8Z"/><path class="kt" d="M399.8 84.8L401.5 85.7L403.7 85L402 84.1Z"/>
<path class="k" d="M386.1 88.8L387.8 89.7L389.9 89L389.9 67.8L388.3 66.9L386.1 67.6Z"/><path class="kl" d="M386.1 88.8L387.8 89.7L387.8 68.5L386.1 67.6Z"/><path class="kt" d="M386.1 67.6L387.8 68.5L389.9 67.8L388.3 66.9Z"/>
<path class="k" d="M389.9 89L391.6 89.9L393.8 89.2L393.8 75.3L392.1 74.3L389.9 75.1Z"/><path class="kl" d="M389.9 89L391.6 89.9L391.6 76L389.9 75.1Z"/><path class="kt" d="M389.9 75.1L391.6 76L393.8 75.3L392.1 74.3Z"/>
<path class="k" d="M363 87.4L364.7 88.3L366.8 87.6L366.8 82.2L365.1 81.2L363 82Z"/><path class="kl" d="M363 87.4L364.7 88.3L364.7 82.9L363 82Z"/><path class="kt" d="M363 82L364.7 82.9L366.8 82.2L365.1 81.2Z"/>
<path class="k" d="M366.8 87.6L368.5 88.6L370.7 87.8L370.7 79.1L369 78.2L366.8 78.9Z"/><path class="kl" d="M366.8 87.6L368.5 88.6L368.5 79.8L366.8 78.9Z"/><path class="kt" d="M366.8 78.9L368.5 79.8L370.7 79.1L369 78.2Z"/>
<path class="k" d="M374.5 88.1L376.2 89L378.4 88.3L378.4 58.5L376.7 57.5L374.5 58.3Z"/><path class="kl" d="M374.5 88.1L376.2 89L376.2 59.2L374.5 58.3Z"/><path class="kt" d="M374.5 58.3L376.2 59.2L378.4 58.5L376.7 57.5Z"/>
<path class="k" d="M378.4 88.3L380.1 89.2L382.2 88.5L382.2 58.6L380.6 57.7L378.4 58.4Z"/><path class="kl" d="M378.4 88.3L380.1 89.2L380.1 59.3L378.4 58.4Z"/><path class="kt" d="M378.4 58.4L380.1 59.3L382.2 58.6L380.6 57.7Z"/>
<path class="k" d="M382.2 88.5L383.9 89.5L386.1 88.8L386.1 63.2L384.4 62.3L382.2 63Z"/><path class="kl" d="M382.2 88.5L383.9 89.5L383.9 63.9L382.2 63Z"/><path class="kt" d="M382.2 63L383.9 63.9L386.1 63.2L384.4 62.3Z"/>
<path class="k" d="M370.7 87.8L372.4 88.8L374.5 88.1L374.5 69.5L372.8 68.6L370.7 69.3Z"/><path class="kl" d="M370.7 87.8L372.4 88.8L372.4 70.2L370.7 69.3Z"/><path class="kt" d="M370.7 69.3L372.4 70.2L374.5 69.5L372.8 68.6Z"/>
<path class="k" d="M393.8 89.2L395.5 90.2L397.6 89.4L397.6 74.8L396 73.8L393.8 74.5Z"/><path class="kl" d="M393.8 89.2L395.5 90.2L395.5 75.5L393.8 74.5Z"/><path class="kt" d="M393.8 74.5L395.5 75.5L397.6 74.8L396 73.8Z"/>
<path class="k" d="M397.6 89.4L399.3 90.4L401.5 89.7L401.5 82.5L399.8 81.5L397.6 82.2Z"/><path class="kl" d="M397.6 89.4L399.3 90.4L399.3 83.2L397.6 82.2Z"/><path class="kt" d="M397.6 82.2L399.3 83.2L401.5 82.5L399.8 81.5Z"/>
<path class="k" d="M383.9 89.5L385.6 90.4L387.8 89.7L387.8 68.2L386.1 67.3L383.9 68Z"/><path class="kl" d="M383.9 89.5L385.6 90.4L385.6 68.9L383.9 68Z"/><path class="kt" d="M383.9 68L385.6 68.9L387.8 68.2L386.1 67.3Z"/>
<path class="k" d="M364.7 88.3L366.3 89.3L368.5 88.6L368.5 83.6L366.8 82.7L364.7 83.4Z"/><path class="kl" d="M364.7 88.3L366.3 89.3L366.3 84.3L364.7 83.4Z"/><path class="kt" d="M364.7 83.4L366.3 84.3L368.5 83.6L366.8 82.7Z"/>
<path class="k" d="M376.2 89L377.9 90L380.1 89.2L380.1 58.4L378.4 57.5L376.2 58.2Z"/><path class="kl" d="M376.2 89L377.9 90L377.9 59.1L376.2 58.2Z"/><path class="kt" d="M376.2 58.2L377.9 59.1L380.1 58.4L378.4 57.5Z"/>
<path class="k" d="M387.8 89.7L389.4 90.6L391.6 89.9L391.6 74.2L389.9 73.2L387.8 73.9Z"/><path class="kl" d="M387.8 89.7L389.4 90.6L389.4 74.9L387.8 73.9Z"/><path class="kt" d="M387.8 73.9L389.4 74.9L391.6 74.2L389.9 73.2Z"/>
<path class="k" d="M391.6 89.9L393.3 90.9L395.5 90.2L395.5 73.2L393.8 72.2L391.6 72.9Z"/><path class="kl" d="M391.6 89.9L393.3 90.9L393.3 73.9L391.6 72.9Z"/><path class="kt" d="M391.6 72.9L393.3 73.9L395.5 73.2L393.8 72.2Z"/>
<path class="k" d="M360.8 88.1L362.5 89.1L364.7 88.3L364.7 86.7L363 85.8L360.8 86.5Z"/><path class="kl" d="M360.8 88.1L362.5 89.1L362.5 87.4L360.8 86.5Z"/><path class="kt" d="M360.8 86.5L362.5 87.4L364.7 86.7L363 85.8Z"/>
<path class="k" d="M368.5 88.6L370.2 89.5L372.4 88.8L372.4 70.9L370.7 69.9L368.5 70.7Z"/><path class="kl" d="M368.5 88.6L370.2 89.5L370.2 71.6L368.5 70.7Z"/><path class="kt" d="M368.5 70.7L370.2 71.6L372.4 70.9L370.7 69.9Z"/>
<path class="k" d="M372.4 88.8L374 89.7L376.2 89L376.2 76.9L374.5 76L372.4 76.7Z"/><path class="kl" d="M372.4 88.8L374 89.7L374 77.6L372.4 76.7Z"/><path class="kt" d="M372.4 76.7L374 77.6L376.2 76.9L374.5 76Z"/>
<path class="k" d="M380.1 89.2L381.7 90.2L383.9 89.5L383.9 72L382.2 71.1L380.1 71.8Z"/><path class="kl" d="M380.1 89.2L381.7 90.2L381.7 72.8L380.1 71.8Z"/><path class="kt" d="M380.1 71.8L381.7 72.8L383.9 72L382.2 71.1Z"/>
<path class="k" d="M395.5 90.2L397.2 91.1L399.3 90.4L399.3 85.5L397.6 84.6L395.5 85.3Z"/><path class="kl" d="M395.5 90.2L397.2 91.1L397.2 86.3L395.5 85.3Z"/><path class="kt" d="M395.5 85.3L397.2 86.3L399.3 85.5L397.6 84.6Z"/>
<path class="k" d="M399.3 90.4L401 91.3L403.2 90.6L403.2 88.4L401.5 87.4L399.3 88.2Z"/><path class="kl" d="M399.3 90.4L401 91.3L401 89.1L399.3 88.2Z"/><path class="kt" d="M399.3 88.2L401 89.1L403.2 88.4L401.5 87.4Z"/>
<path class="k" d="M381.7 90.2L383.4 91.1L385.6 90.4L385.6 69.1L383.9 68.2L381.7 68.9Z"/><path class="kl" d="M381.7 90.2L383.4 91.1L383.4 69.8L381.7 68.9Z"/><path class="kt" d="M381.7 68.9L383.4 69.8L385.6 69.1L383.9 68.2Z"/>
<path class="k" d="M385.6 90.4L387.3 91.4L389.4 90.6L389.4 77.6L387.8 76.7L385.6 77.4Z"/><path class="kl" d="M385.6 90.4L387.3 91.4L387.3 78.3L385.6 77.4Z"/><path class="kt" d="M385.6 77.4L387.3 78.3L389.4 77.6L387.8 76.7Z"/>
<path class="k" d="M362.5 89.1L364.2 90L366.3 89.3L366.3 85.1L364.7 84.2L362.5 84.9Z"/><path class="kl" d="M362.5 89.1L364.2 90L364.2 85.8L362.5 84.9Z"/><path class="kt" d="M362.5 84.9L364.2 85.8L366.3 85.1L364.7 84.2Z"/>
<path class="k" d="M366.3 89.3L368 90.2L370.2 89.5L370.2 80L368.5 79.1L366.3 79.8Z"/><path class="kl" d="M366.3 89.3L368 90.2L368 80.7L366.3 79.8Z"/><path class="kt" d="M366.3 79.8L368 80.7L370.2 80L368.5 79.1Z"/>
<path class="k" d="M370.2 89.5L371.9 90.5L374 89.7L374 77.5L372.4 76.5L370.2 77.2Z"/><path class="kl" d="M370.2 89.5L371.9 90.5L371.9 78.2L370.2 77.2Z"/><path class="kt" d="M370.2 77.2L371.9 78.2L374 77.5L372.4 76.5Z"/>
<path class="k" d="M374 89.7L375.7 90.7L377.9 90L377.9 68.2L376.2 67.3L374 68Z"/><path class="kl" d="M374 89.7L375.7 90.7L375.7 68.9L374 68Z"/><path class="kt" d="M374 68L375.7 68.9L377.9 68.2L376.2 67.3Z"/>
<path class="k" d="M377.9 90L379.6 90.9L381.7 90.2L381.7 63.9L380.1 62.9L377.9 63.6Z"/><path class="kl" d="M377.9 90L379.6 90.9L379.6 64.6L377.9 63.6Z"/><path class="kt" d="M377.9 63.6L379.6 64.6L381.7 63.9L380.1 62.9Z"/>
<path class="k" d="M389.4 90.6L391.1 91.6L393.3 90.9L393.3 81.1L391.6 80.2L389.4 80.9Z"/><path class="kl" d="M389.4 90.6L391.1 91.6L391.1 81.8L389.4 80.9Z"/><path class="kt" d="M389.4 80.9L391.1 81.8L393.3 81.1L391.6 80.2Z"/>
<path class="k" d="M393.3 90.9L395 91.8L397.2 91.1L397.2 79.1L395.5 78.2L393.3 78.9Z"/><path class="kl" d="M393.3 90.9L395 91.8L395 79.9L393.3 78.9Z"/><path class="kt" d="M393.3 78.9L395 79.9L397.2 79.1L395.5 78.2Z"/>
<path class="k" d="M397.2 91.1L398.8 92L401 91.3L401 87.1L399.3 86.1L397.2 86.8Z"/><path class="kl" d="M397.2 91.1L398.8 92L398.8 87.8L397.2 86.8Z"/><path class="kt" d="M397.2 86.8L398.8 87.8L401 87.1L399.3 86.1Z"/>
<path class="k" d="M379.6 90.9L381.3 91.9L383.4 91.1L383.4 70.3L381.7 69.4L379.6 70.1Z"/><path class="kl" d="M379.6 90.9L381.3 91.9L381.3 71.1L379.6 70.1Z"/><path class="kt" d="M379.6 70.1L381.3 71.1L383.4 70.3L381.7 69.4Z"/>
<path class="k" d="M368 90.2L369.7 91.2L371.9 90.5L371.9 82.7L370.2 81.7L368 82.4Z"/><path class="kl" d="M368 90.2L369.7 91.2L369.7 83.4L368 82.4Z"/><path class="kt" d="M368 82.4L369.7 83.4L371.9 82.7L370.2 81.7Z"/>
<path class="k" d="M371.9 90.5L373.5 91.4L375.7 90.7L375.7 77.7L374 76.7L371.9 77.4Z"/><path class="kl" d="M371.9 90.5L373.5 91.4L373.5 78.4L371.9 77.4Z"/><path class="kt" d="M371.9 77.4L373.5 78.4L375.7 77.7L374 76.7Z"/>
<path class="k" d="M383.4 91.1L385.1 92.1L387.3 91.4L387.3 80.8L385.6 79.9L383.4 80.6Z"/><path class="kl" d="M383.4 91.1L385.1 92.1L385.1 81.5L383.4 80.6Z"/><path class="kt" d="M383.4 80.6L385.1 81.5L387.3 80.8L385.6 79.9Z"/>
<path class="k" d="M387.3 91.4L389 92.3L391.1 91.6L391.1 74.7L389.4 73.8L387.3 74.5Z"/><path class="kl" d="M387.3 91.4L389 92.3L389 75.4L387.3 74.5Z"/><path class="kt" d="M387.3 74.5L389 75.4L391.1 74.7L389.4 73.8Z"/>
<path class="k" d="M364.2 90L365.8 91L368 90.2L368 87.5L366.3 86.6L364.2 87.3Z"/><path class="kl" d="M364.2 90L365.8 91L365.8 88.3L364.2 87.3Z"/><path class="kt" d="M364.2 87.3L365.8 88.3L368 87.5L366.3 86.6Z"/>
<path class="k" d="M375.7 90.7L377.4 91.6L379.6 90.9L379.6 71.1L377.9 70.2L375.7 70.9Z"/><path class="kl" d="M375.7 90.7L377.4 91.6L377.4 71.9L375.7 70.9Z"/><path class="kt" d="M375.7 70.9L377.4 71.9L379.6 71.1L377.9 70.2Z"/>
<path class="k" d="M391.1 91.6L392.8 92.5L395 91.8L395 84.6L393.3 83.6L391.1 84.4Z"/><path class="kl" d="M391.1 91.6L392.8 92.5L392.8 85.3L391.1 84.4Z"/><path class="kt" d="M391.1 84.4L392.8 85.3L395 84.6L393.3 83.6Z"/>
<path class="k" d="M395 91.8L396.7 92.8L398.8 92L398.8 88L397.2 87L395 87.7Z"/><path class="kl" d="M395 91.8L396.7 92.8L396.7 88.7L395 87.7Z"/><path class="kt" d="M395 87.7L396.7 88.7L398.8 88L397.2 87Z"/>
<path class="k" d="M369.7 91.2L371.4 92.1L373.5 91.4L373.5 84.8L371.9 83.9L369.7 84.6Z"/><path class="kl" d="M369.7 91.2L371.4 92.1L371.4 85.5L369.7 84.6Z"/><path class="kt" d="M369.7 84.6L371.4 85.5L373.5 84.8L371.9 83.9Z"/>
<path class="k" d="M377.4 91.6L379.1 92.6L381.3 91.9L381.3 81.5L379.6 80.5L377.4 81.3Z"/><path class="kl" d="M377.4 91.6L379.1 92.6L379.1 82.2L377.4 81.3Z"/><path class="kt" d="M377.4 81.3L379.1 82.2L381.3 81.5L379.6 80.5Z"/>
<path class="k" d="M381.3 91.9L382.9 92.8L385.1 92.1L385.1 75.8L383.4 74.8L381.3 75.5Z"/><path class="kl" d="M381.3 91.9L382.9 92.8L382.9 76.5L381.3 75.5Z"/><path class="kt" d="M381.3 75.5L382.9 76.5L385.1 75.8L383.4 74.8Z"/>
<path class="k" d="M365.8 91L367.5 91.9L369.7 91.2L369.7 87.5L368 86.6L365.8 87.3Z"/><path class="kl" d="M365.8 91L367.5 91.9L367.5 88.2L365.8 87.3Z"/><path class="kt" d="M365.8 87.3L367.5 88.2L369.7 87.5L368 86.6Z"/>
<path class="k" d="M373.5 91.4L375.2 92.4L377.4 91.6L377.4 77.7L375.7 76.8L373.5 77.5Z"/><path class="kl" d="M373.5 91.4L375.2 92.4L375.2 78.4L373.5 77.5Z"/><path class="kt" d="M373.5 77.5L375.2 78.4L377.4 77.7L375.7 76.8Z"/>
<path class="k" d="M385.1 92.1L386.8 93L389 92.3L389 77.7L387.3 76.8L385.1 77.5Z"/><path class="kl" d="M385.1 92.1L386.8 93L386.8 78.4L385.1 77.5Z"/><path class="kt" d="M385.1 77.5L386.8 78.4L389 77.7L387.3 76.8Z"/>
<path class="k" d="M389 92.3L390.6 93.3L392.8 92.5L392.8 81.8L391.1 80.9L389 81.6Z"/><path class="kl" d="M389 92.3L390.6 93.3L390.6 82.6L389 81.6Z"/><path class="kt" d="M389 81.6L390.6 82.6L392.8 81.8L391.1 80.9Z"/>
<path class="k" d="M392.8 92.5L394.5 93.5L396.7 92.8L396.7 89.4L395 88.4L392.8 89.2Z"/><path class="kl" d="M392.8 92.5L394.5 93.5L394.5 90.1L392.8 89.2Z"/><path class="kt" d="M392.8 89.2L394.5 90.1L396.7 89.4L395 88.4Z"/>
<path class="k" d="M375.2 92.4L376.9 93.3L379.1 92.6L379.1 81.5L377.4 80.6L375.2 81.3Z"/><path class="kl" d="M375.2 92.4L376.9 93.3L376.9 82.2L375.2 81.3Z"/><path class="kt" d="M375.2 81.3L376.9 82.2L379.1 81.5L377.4 80.6Z"/>
<path class="k" d="M367.5 91.9L369.2 92.8L371.4 92.1L371.4 88.8L369.7 87.8L367.5 88.6Z"/><path class="kl" d="M367.5 91.9L369.2 92.8L369.2 89.5L367.5 88.6Z"/><path class="kt" d="M367.5 88.6L369.2 89.5L371.4 88.8L369.7 87.8Z"/>
<path class="k" d="M371.4 92.1L373.1 93.1L375.2 92.4L375.2 82L373.5 81.1L371.4 81.8Z"/><path class="kl" d="M371.4 92.1L373.1 93.1L373.1 82.7L371.4 81.8Z"/><path class="kt" d="M371.4 81.8L373.1 82.7L375.2 82L373.5 81.1Z"/>
<path class="k" d="M379.1 92.6L380.8 93.5L382.9 92.8L382.9 84.4L381.3 83.5L379.1 84.2Z"/><path class="kl" d="M379.1 92.6L380.8 93.5L380.8 85.1L379.1 84.2Z"/><path class="kt" d="M379.1 84.2L380.8 85.1L382.9 84.4L381.3 83.5Z"/>
<path class="k" d="M382.9 92.8L384.6 93.8L386.8 93L386.8 84.6L385.1 83.7L382.9 84.4Z"/><path class="kl" d="M382.9 92.8L384.6 93.8L384.6 85.3L382.9 84.4Z"/><path class="kt" d="M382.9 84.4L384.6 85.3L386.8 84.6L385.1 83.7Z"/>
<path class="k" d="M386.8 93L388.5 94L390.6 93.3L390.6 83.5L389 82.5L386.8 83.2Z"/><path class="kl" d="M386.8 93L388.5 94L388.5 84.2L386.8 83.2Z"/><path class="kt" d="M386.8 83.2L388.5 84.2L390.6 83.5L389 82.5Z"/>
<path class="k" d="M390.6 93.3L392.3 94.2L394.5 93.5L394.5 88.4L392.8 87.5L390.6 88.2Z"/><path class="kl" d="M390.6 93.3L392.3 94.2L392.3 89.1L390.6 88.2Z"/><path class="kt" d="M390.6 88.2L392.3 89.1L394.5 88.4L392.8 87.5Z"/>
<path class="k" d="M373.1 93.1L374.7 94L376.9 93.3L376.9 88.9L375.2 87.9L373.1 88.6Z"/><path class="kl" d="M373.1 93.1L374.7 94L374.7 89.6L373.1 88.6Z"/><path class="kt" d="M373.1 88.6L374.7 89.6L376.9 88.9L375.2 87.9Z"/>
<path class="k" d="M376.9 93.3L378.6 94.2L380.8 93.5L380.8 85.1L379.1 84.1L376.9 84.9Z"/><path class="kl" d="M376.9 93.3L378.6 94.2L378.6 85.8L376.9 84.9Z"/><path class="kt" d="M376.9 84.9L378.6 85.8L380.8 85.1L379.1 84.1Z"/>
<path class="k" d="M369.2 92.8L370.9 93.8L373.1 93.1L373.1 89.5L371.4 88.5L369.2 89.2Z"/><path class="kl" d="M369.2 92.8L370.9 93.8L370.9 90.2L369.2 89.2Z"/><path class="kt" d="M369.2 89.2L370.9 90.2L373.1 89.5L371.4 88.5Z"/>
<path class="k" d="M380.8 93.5L382.4 94.5L384.6 93.8L384.6 85.4L382.9 84.4L380.8 85.1Z"/><path class="kl" d="M380.8 93.5L382.4 94.5L382.4 86.1L380.8 85.1Z"/><path class="kt" d="M380.8 85.1L382.4 86.1L384.6 85.4L382.9 84.4Z"/>
<path class="k" d="M384.6 93.8L386.3 94.7L388.5 94L388.5 89.2L386.8 88.3L384.6 89Z"/><path class="kl" d="M384.6 93.8L386.3 94.7L386.3 89.9L384.6 89Z"/><path class="kt" d="M384.6 89L386.3 89.9L388.5 89.2L386.8 88.3Z"/>
<path class="k" d="M388.5 94L390.1 94.9L392.3 94.2L392.3 89.6L390.6 88.7L388.5 89.4Z"/><path class="kl" d="M388.5 94L390.1 94.9L390.1 90.3L388.5 89.4Z"/><path class="kt" d="M388.5 89.4L390.1 90.3L392.3 89.6L390.6 88.7Z"/>
<path class="k" d="M370.9 93.8L372.6 94.7L374.7 94L374.7 91.1L373.1 90.1L370.9 90.8Z"/><path class="kl" d="M370.9 93.8L372.6 94.7L372.6 91.8L370.9 90.8Z"/><path class="kt" d="M370.9 90.8L372.6 91.8L374.7 91.1L373.1 90.1Z"/>
<path class="k" d="M374.7 94L376.4 95L378.6 94.2L378.6 90.4L376.9 89.4L374.7 90.1Z"/><path class="kl" d="M374.7 94L376.4 95L376.4 91.1L374.7 90.1Z"/><path class="kt" d="M374.7 90.1L376.4 91.1L378.6 90.4L376.9 89.4Z"/>
<path class="k" d="M378.6 94.2L380.3 95.2L382.4 94.5L382.4 91.8L380.8 90.8L378.6 91.6Z"/><path class="kl" d="M378.6 94.2L380.3 95.2L380.3 92.5L378.6 91.6Z"/><path class="kt" d="M378.6 91.6L380.3 92.5L382.4 91.8L380.8 90.8Z"/>
<path class="k" d="M382.4 94.5L384.1 95.4L386.3 94.7L386.3 90.2L384.6 89.3L382.4 90Z"/><path class="kl" d="M382.4 94.5L384.1 95.4L384.1 90.9L382.4 90Z"/><path class="kt" d="M382.4 90L384.1 90.9L386.3 90.2L384.6 89.3Z"/>
<path class="k" d="M386.3 94.7L388 95.6L390.1 94.9L390.1 92.6L388.5 91.7L386.3 92.4Z"/><path class="kl" d="M386.3 94.7L388 95.6L388 93.3L386.3 92.4Z"/><path class="kt" d="M386.3 92.4L388 93.3L390.1 92.6L388.5 91.7Z"/>
<path class="k" d="M376.4 95L378.1 95.9L380.3 95.2L380.3 93.6L378.6 92.7L376.4 93.4Z"/><path class="kl" d="M376.4 95L378.1 95.9L378.1 94.3L376.4 93.4Z"/><path class="kt" d="M376.4 93.4L378.1 94.3L380.3 93.6L378.6 92.7Z"/>
<path d="M329.4 29.5L389.7 9.5M389.7 9.5L436.4 35.8M329.4 85.7L329.4 29.5M436.4 92L436.4 35.8M329.4 85.7L376.1 112M376.1 112L436.4 92M328.1 85.7h1.3M328.1 59.2h1.3M328.1 32.7h1.3M339.9 91.6L338.1 92.2M353.5 99.3L351.7 99.9M368.2 107.6L366.4 108.2M387 108.4L388.4 109.2M405.6 102.2L407 103M424.9 95.8L426.3 96.6" stroke="#2a2a2a" stroke-width="0.9" fill="none"/>
<text class="s" x="327.6" y="87.57" font-size="5.2" text-anchor="end">0</text>
<text class="s" x="327.6" y="61.06" font-size="5.2" text-anchor="end">50</text>
<text class="s" x="327.6" y="34.55" font-size="5.2" text-anchor="end">100</text>
<text class="s" x="332.6" y="98.47" font-size="5.2" text-anchor="middle">0.5</text>
<text class="s" x="349" y="106.47" font-size="5.2" text-anchor="middle">0</text>
<text class="s" x="360.8" y="114.57" font-size="5.2" text-anchor="middle">-0.5</text>
<text class="s" x="391.5" y="115.87" font-size="5.2" text-anchor="middle">0</text>
<text class="s" x="412.6" y="109.77" font-size="5.2" text-anchor="middle">0.5</text>
<text class="s" x="428.7" y="103.67" font-size="5.2" text-anchor="middle">1</text>
<text class="s" transform="translate(314.7,72.8) rotate(-90)" font-size="8.3">Number</text>
<text class="s" x="334.2" y="123.3" font-size="8.1">I<tspan font-size="6.9" dy="4">ϕ,α</tspan></text>
<text class="s" x="407.6" y="124.6" font-size="8.1">I<tspan font-size="6.9" dy="4">χ,k</tspan></text>
<path d="M340.3 232.3L340.3 176.9M340.3 232.3L387 258.6M358.9 226.1L358.9 170.7M358.9 226.1L405.6 252.4M378.2 219.7L378.2 164.3M378.2 219.7L424.9 246M400.2 221.8L400.2 166.4M339.9 241.8L400.2 221.8M413.8 229.5L413.8 174.1M353.5 249.5L413.8 229.5M428.5 237.8L428.5 182.4M368.2 257.8L428.5 237.8M329.4 211.6L389.7 191.6M389.7 191.6L436.4 217.9M329.4 187.3L389.7 167.3M389.7 167.3L436.4 193.6M389.7 215.9L389.7 160.5M329.4 235.9L389.7 215.9M389.7 215.9L436.4 242.2" stroke="#d9d9d9" stroke-width="0.8"/>
<path class="e" d="M383.2 235.1L384.5 235.8L386.1 235.3L386.1 234.2L384.9 233.5L383.2 234Z"/><path class="el" d="M383.2 235.1L384.5 235.8L384.5 234.7L383.2 234Z"/><path class="et" d="M383.2 234L384.5 234.7L386.1 234.2L384.9 233.5Z"/>
<path class="e" d="M381.6 235.7L382.9 236.4L384.5 235.8L384.5 231.8L383.2 231.1L381.6 231.7Z"/><path class="el" d="M381.6 235.7L382.9 236.4L382.9 232.4L381.6 231.7Z"/><path class="et" d="M381.6 231.7L382.9 232.4L384.5 231.8L383.2 231.1Z"/>
<path class="e" d="M378.7 235.5L380 236.2L381.6 235.7L381.6 234.2L380.3 233.5L378.7 234.1Z"/><path class="el" d="M378.7 235.5L380 236.2L380 234.8L378.7 234.1Z"/><path class="et" d="M378.7 234.1L380 234.8L381.6 234.2L380.3 233.5Z"/>
<path class="e" d="M387.4 236L388.6 236.7L390.3 236.2L390.3 234.7L389 234L387.4 234.5Z"/><path class="el" d="M387.4 236L388.6 236.7L388.6 235.2L387.4 234.5Z"/><path class="et" d="M387.4 234.5L388.6 235.2L390.3 234.7L389 234Z"/>
<path class="e" d="M384.5 235.8L385.8 236.6L387.4 236L387.4 233L386.1 232.3L384.5 232.9Z"/><path class="el" d="M384.5 235.8L385.8 236.6L385.8 233.6L384.5 232.9Z"/><path class="et" d="M384.5 232.9L385.8 233.6L387.4 233L386.1 232.3Z"/>
<path class="e" d="M380 236.2L381.2 236.9L382.9 236.4L382.9 229.4L381.6 228.7L380 229.2Z"/><path class="el" d="M380 236.2L381.2 236.9L381.2 229.9L380 229.2Z"/><path class="et" d="M380 229.2L381.2 229.9L382.9 229.4L381.6 228.7Z"/>
<path class="e" d="M382.9 236.4L384.1 237.1L385.8 236.6L385.8 225.5L384.5 224.8L382.9 225.3Z"/><path class="el" d="M382.9 236.4L384.1 237.1L384.1 226L382.9 225.3Z"/><path class="et" d="M382.9 225.3L384.1 226L385.8 225.5L384.5 224.8Z"/>
<path class="e" d="M377.1 236L378.3 236.8L380 236.2L380 234L378.7 233.3L377.1 233.9Z"/><path class="el" d="M377.1 236L378.3 236.8L378.3 234.6L377.1 233.9Z"/><path class="et" d="M377.1 233.9L378.3 234.6L380 234L378.7 233.3Z"/>
<path class="e" d="M385.8 236.6L387 237.3L388.6 236.7L388.6 229.6L387.4 228.9L385.8 229.4Z"/><path class="el" d="M385.8 236.6L387 237.3L387 230.2L385.8 229.4Z"/><path class="et" d="M385.8 229.4L387 230.2L388.6 229.6L387.4 228.9Z"/>
<path class="e" d="M388.6 236.7L389.9 237.4L391.5 236.9L391.5 235.2L390.3 234.5L388.6 235Z"/><path class="el" d="M388.6 236.7L389.9 237.4L389.9 235.7L388.6 235Z"/><path class="et" d="M388.6 235L389.9 235.7L391.5 235.2L390.3 234.5Z"/>
<path class="e" d="M384.1 237.1L385.4 237.8L387 237.3L387 220.1L385.8 219.4L384.1 219.9Z"/><path class="el" d="M384.1 237.1L385.4 237.8L385.4 220.6L384.1 219.9Z"/><path class="et" d="M384.1 219.9L385.4 220.6L387 220.1L385.8 219.4Z"/>
<path class="e" d="M378.3 236.8L379.6 237.5L381.2 236.9L381.2 228.9L380 228.2L378.3 228.7Z"/><path class="el" d="M378.3 236.8L379.6 237.5L379.6 229.4L378.3 228.7Z"/><path class="et" d="M378.3 228.7L379.6 229.4L381.2 228.9L380 228.2Z"/>
<path class="e" d="M381.2 236.9L382.5 237.6L384.1 237.1L384.1 221.7L382.9 221L381.2 221.6Z"/><path class="el" d="M381.2 236.9L382.5 237.6L382.5 222.3L381.2 221.6Z"/><path class="et" d="M381.2 221.6L382.5 222.3L384.1 221.7L382.9 221Z"/>
<path class="e" d="M375.5 236.6L376.7 237.3L378.3 236.8L378.3 235.5L377.1 234.8L375.5 235.3Z"/><path class="el" d="M375.5 236.6L376.7 237.3L376.7 236L375.5 235.3Z"/><path class="et" d="M375.5 235.3L376.7 236L378.3 235.5L377.1 234.8Z"/>
<path class="e" d="M387 237.3L388.3 238L389.9 237.4L389.9 229L388.6 228.2L387 228.8Z"/><path class="el" d="M387 237.3L388.3 238L388.3 229.5L387 228.8Z"/><path class="et" d="M387 228.8L388.3 229.5L389.9 229L388.6 228.2Z"/>
<path class="e" d="M389.9 237.4L391.2 238.1L392.8 237.6L392.8 235.7L391.5 235L389.9 235.6Z"/><path class="el" d="M389.9 237.4L391.2 238.1L391.2 236.3L389.9 235.6Z"/><path class="et" d="M389.9 235.6L391.2 236.3L392.8 235.7L391.5 235Z"/>
<path class="e" d="M382.5 237.6L383.8 238.3L385.4 237.8L385.4 210.3L384.1 209.6L382.5 210.2Z"/><path class="el" d="M382.5 237.6L383.8 238.3L383.8 210.9L382.5 210.2Z"/><path class="et" d="M382.5 210.2L383.8 210.9L385.4 210.3L384.1 209.6Z"/>
<path class="e" d="M385.4 237.8L386.6 238.5L388.3 238L388.3 221.5L387 220.8L385.4 221.4Z"/><path class="el" d="M385.4 237.8L386.6 238.5L386.6 222.1L385.4 221.4Z"/><path class="et" d="M385.4 221.4L386.6 222.1L388.3 221.5L387 220.8Z"/>
<path class="e" d="M376.7 237.3L378 238L379.6 237.5L379.6 232.4L378.3 231.6L376.7 232.2Z"/><path class="el" d="M376.7 237.3L378 238L378 232.9L376.7 232.2Z"/><path class="et" d="M376.7 232.2L378 232.9L379.6 232.4L378.3 231.6Z"/>
<path class="e" d="M379.6 237.5L380.9 238.2L382.5 237.6L382.5 214.3L381.2 213.6L379.6 214.1Z"/><path class="el" d="M379.6 237.5L380.9 238.2L380.9 214.8L379.6 214.1Z"/><path class="et" d="M379.6 214.1L380.9 214.8L382.5 214.3L381.2 213.6Z"/>
<path class="e" d="M388.3 238L389.5 238.7L391.2 238.1L391.2 232.2L389.9 231.5L388.3 232Z"/><path class="el" d="M388.3 238L389.5 238.7L389.5 232.7L388.3 232Z"/><path class="et" d="M388.3 232L389.5 232.7L391.2 232.2L389.9 231.5Z"/>
<path class="e" d="M375.1 237.8L376.4 238.5L378 238L378 234.3L376.7 233.5L375.1 234.1Z"/><path class="el" d="M375.1 237.8L376.4 238.5L376.4 234.8L375.1 234.1Z"/><path class="et" d="M375.1 234.1L376.4 234.8L378 234.3L376.7 233.5Z"/>
<path class="e" d="M380.9 238.2L382.1 238.9L383.8 238.3L383.8 202L382.5 201.3L380.9 201.8Z"/><path class="el" d="M380.9 238.2L382.1 238.9L382.1 202.5L380.9 201.8Z"/><path class="et" d="M380.9 201.8L382.1 202.5L383.8 202L382.5 201.3Z"/>
<path class="e" d="M383.8 238.3L385 239.1L386.6 238.5L386.6 204.5L385.4 203.8L383.8 204.4Z"/><path class="el" d="M383.8 238.3L385 239.1L385 205.1L383.8 204.4Z"/><path class="et" d="M383.8 204.4L385 205.1L386.6 204.5L385.4 203.8Z"/>
<path class="e" d="M386.6 238.5L387.9 239.2L389.5 238.7L389.5 220.6L388.3 219.9L386.6 220.4Z"/><path class="el" d="M386.6 238.5L387.9 239.2L387.9 221.1L386.6 220.4Z"/><path class="et" d="M386.6 220.4L387.9 221.1L389.5 220.6L388.3 219.9Z"/>
<path class="e" d="M378 238L379.2 238.7L380.9 238.2L380.9 223.7L379.6 223L378 223.5Z"/><path class="el" d="M378 238L379.2 238.7L379.2 224.2L378 223.5Z"/><path class="et" d="M378 223.5L379.2 224.2L380.9 223.7L379.6 223Z"/>
<path class="e" d="M389.5 238.7L390.8 239.4L392.4 238.9L392.4 235.9L391.2 235.1L389.5 235.7Z"/><path class="el" d="M389.5 238.7L390.8 239.4L390.8 236.4L389.5 235.7Z"/><path class="et" d="M389.5 235.7L390.8 236.4L392.4 235.9L391.2 235.1Z"/>
<path class="e" d="M373.5 238.4L374.7 239.1L376.4 238.5L376.4 237L375.1 236.3L373.5 236.8Z"/><path class="el" d="M373.5 238.4L374.7 239.1L374.7 237.6L373.5 236.8Z"/><path class="et" d="M373.5 236.8L374.7 237.6L376.4 237L375.1 236.3Z"/>
<path class="e" d="M376.4 238.5L377.6 239.3L379.2 238.7L379.2 228.7L378 228L376.4 228.6Z"/><path class="el" d="M376.4 238.5L377.6 239.3L377.6 229.3L376.4 228.6Z"/><path class="et" d="M376.4 228.6L377.6 229.3L379.2 228.7L378 228Z"/>
<path class="e" d="M379.2 238.7L380.5 239.4L382.1 238.9L382.1 209L380.9 208.3L379.2 208.9Z"/><path class="el" d="M379.2 238.7L380.5 239.4L380.5 209.6L379.2 208.9Z"/><path class="et" d="M379.2 208.9L380.5 209.6L382.1 209L380.9 208.3Z"/>
<path class="e" d="M382.1 238.9L383.4 239.6L385 239.1L385 185.3L383.8 184.6L382.1 185.1Z"/><path class="el" d="M382.1 238.9L383.4 239.6L383.4 185.9L382.1 185.1Z"/><path class="et" d="M382.1 185.1L383.4 185.9L385 185.3L383.8 184.6Z"/>
<path class="e" d="M385 239.1L386.3 239.8L387.9 239.2L387.9 212.5L386.6 211.8L385 212.3Z"/><path class="el" d="M385 239.1L386.3 239.8L386.3 213.1L385 212.3Z"/><path class="et" d="M385 212.3L386.3 213.1L387.9 212.5L386.6 211.8Z"/>
<path class="e" d="M387.9 239.2L389.2 239.9L390.8 239.4L390.8 232L389.5 231.3L387.9 231.9Z"/><path class="el" d="M387.9 239.2L389.2 239.9L389.2 232.6L387.9 231.9Z"/><path class="et" d="M387.9 231.9L389.2 232.6L390.8 232L389.5 231.3Z"/>
<path class="e" d="M390.8 239.4L392.1 240.1L393.7 239.6L393.7 238.1L392.4 237.4L390.8 237.9Z"/><path class="el" d="M390.8 239.4L392.1 240.1L392.1 238.7L390.8 237.9Z"/><path class="et" d="M390.8 237.9L392.1 238.7L393.7 238.1L392.4 237.4Z"/>
<path class="e" d="M389.2 239.9L390.4 240.6L392.1 240.1L392.1 236.4L390.8 235.7L389.2 236.2Z"/><path class="el" d="M389.2 239.9L390.4 240.6L390.4 236.9L389.2 236.2Z"/><path class="et" d="M389.2 236.2L390.4 236.9L392.1 236.4L390.8 235.7Z"/>
<path class="e" d="M377.6 239.3L378.9 240L380.5 239.4L380.5 220.6L379.2 219.9L377.6 220.4Z"/><path class="el" d="M377.6 239.3L378.9 240L378.9 221.1L377.6 220.4Z"/><path class="et" d="M377.6 220.4L378.9 221.1L380.5 220.6L379.2 219.9Z"/>
<path class="e" d="M374.7 239.1L376 239.8L377.6 239.3L377.6 235.9L376.4 235.2L374.7 235.7Z"/><path class="el" d="M374.7 239.1L376 239.8L376 236.4L374.7 235.7Z"/><path class="et" d="M374.7 235.7L376 236.4L377.6 235.9L376.4 235.2Z"/>
<path class="e" d="M380.5 239.4L381.8 240.1L383.4 239.6L383.4 209.7L382.1 209L380.5 209.5Z"/><path class="el" d="M380.5 239.4L381.8 240.1L381.8 210.3L380.5 209.5Z"/><path class="et" d="M380.5 209.5L381.8 210.3L383.4 209.7L382.1 209Z"/>
<path class="e" d="M383.4 239.6L384.7 240.3L386.3 239.8L386.3 204L385 203.3L383.4 203.8Z"/><path class="el" d="M383.4 239.6L384.7 240.3L384.7 204.5L383.4 203.8Z"/><path class="et" d="M383.4 203.8L384.7 204.5L386.3 204L385 203.3Z"/>
<path class="e" d="M386.3 239.8L387.5 240.5L389.2 239.9L389.2 225.6L387.9 224.9L386.3 225.4Z"/><path class="el" d="M386.3 239.8L387.5 240.5L387.5 226.1L386.3 225.4Z"/><path class="et" d="M386.3 225.4L387.5 226.1L389.2 225.6L387.9 224.9Z"/>
<path class="e" d="M387.5 240.5L388.8 241.2L390.4 240.6L390.4 234L389.2 233.3L387.5 233.9Z"/><path class="el" d="M387.5 240.5L388.8 241.2L388.8 234.6L387.5 233.9Z"/><path class="et" d="M387.5 233.9L388.8 234.6L390.4 234L389.2 233.3Z"/>
<path class="e" d="M376 239.8L377.2 240.5L378.9 240L378.9 234.2L377.6 233.5L376 234Z"/><path class="el" d="M376 239.8L377.2 240.5L377.2 234.7L376 234Z"/><path class="et" d="M376 234L377.2 234.7L378.9 234.2L377.6 233.5Z"/>
<path class="e" d="M378.9 240L380.1 240.7L381.8 240.1L381.8 220.7L380.5 220L378.9 220.5Z"/><path class="el" d="M378.9 240L380.1 240.7L380.1 221.2L378.9 220.5Z"/><path class="et" d="M378.9 220.5L380.1 221.2L381.8 220.7L380.5 220Z"/>
<path class="e" d="M381.8 240.1L383 240.8L384.7 240.3L384.7 212.1L383.4 211.4L381.8 211.9Z"/><path class="el" d="M381.8 240.1L383 240.8L383 212.6L381.8 211.9Z"/><path class="et" d="M381.8 211.9L383 212.6L384.7 212.1L383.4 211.4Z"/>
<path class="e" d="M384.7 240.3L385.9 241L387.5 240.5L387.5 224.5L386.3 223.8L384.7 224.3Z"/><path class="el" d="M384.7 240.3L385.9 241L385.9 225L384.7 224.3Z"/><path class="et" d="M384.7 224.3L385.9 225L387.5 224.5L386.3 223.8Z"/>
<path class="e" d="M374.4 240.3L375.6 241L377.2 240.5L377.2 238.6L376 237.9L374.4 238.4Z"/><path class="el" d="M374.4 240.3L375.6 241L375.6 239.1L374.4 238.4Z"/><path class="et" d="M374.4 238.4L375.6 239.1L377.2 238.6L376 237.9Z"/>
<path class="e" d="M385.9 241L387.2 241.7L388.8 241.2L388.8 232.1L387.5 231.4L385.9 231.9Z"/><path class="el" d="M385.9 241L387.2 241.7L387.2 232.7L385.9 231.9Z"/><path class="et" d="M385.9 231.9L387.2 232.7L388.8 232.1L387.5 231.4Z"/>
<path class="e" d="M388.8 241.2L390.1 241.9L391.7 241.4L391.7 240L390.4 239.3L388.8 239.8Z"/><path class="el" d="M388.8 241.2L390.1 241.9L390.1 240.5L388.8 239.8Z"/><path class="et" d="M388.8 239.8L390.1 240.5L391.7 240L390.4 239.3Z"/>
<path class="e" d="M377.2 240.5L378.5 241.2L380.1 240.7L380.1 232.2L378.9 231.5L377.2 232Z"/><path class="el" d="M377.2 240.5L378.5 241.2L378.5 232.7L377.2 232Z"/><path class="et" d="M377.2 232L378.5 232.7L380.1 232.2L378.9 231.5Z"/>
<path class="e" d="M380.1 240.7L381.4 241.4L383 240.8L383 226.9L381.8 226.2L380.1 226.8Z"/><path class="el" d="M380.1 240.7L381.4 241.4L381.4 227.5L380.1 226.8Z"/><path class="et" d="M380.1 226.8L381.4 227.5L383 226.9L381.8 226.2Z"/>
<path class="e" d="M383 240.8L384.3 241.6L385.9 241L385.9 225.8L384.7 225.1L383 225.6Z"/><path class="el" d="M383 240.8L384.3 241.6L384.3 226.4L383 225.6Z"/><path class="et" d="M383 225.6L384.3 226.4L385.9 225.8L384.7 225.1Z"/>
<path class="e" d="M375.6 241L376.9 241.8L378.5 241.2L378.5 239L377.2 238.2L375.6 238.8Z"/><path class="el" d="M375.6 241L376.9 241.8L376.9 239.5L375.6 238.8Z"/><path class="et" d="M375.6 238.8L376.9 239.5L378.5 239L377.2 238.2Z"/>
<path class="e" d="M384.3 241.6L385.5 242.3L387.2 241.7L387.2 234.8L385.9 234.1L384.3 234.6Z"/><path class="el" d="M384.3 241.6L385.5 242.3L385.5 235.3L384.3 234.6Z"/><path class="et" d="M384.3 234.6L385.5 235.3L387.2 234.8L385.9 234.1Z"/>
<path class="e" d="M387.2 241.7L388.4 242.4L390.1 241.9L390.1 240.2L388.8 239.5L387.2 240.1Z"/><path class="el" d="M387.2 241.7L388.4 242.4L388.4 240.8L387.2 240.1Z"/><path class="et" d="M387.2 240.1L388.4 240.8L390.1 240.2L388.8 239.5Z"/>
<path class="e" d="M378.5 241.2L379.8 241.9L381.4 241.4L381.4 233.9L380.1 233.2L378.5 233.7Z"/><path class="el" d="M378.5 241.2L379.8 241.9L379.8 234.4L378.5 233.7Z"/><path class="et" d="M378.5 233.7L379.8 234.4L381.4 233.9L380.1 233.2Z"/>
<path class="e" d="M381.4 241.4L382.7 242.1L384.3 241.6L384.3 231.8L383 231L381.4 231.6Z"/><path class="el" d="M381.4 241.4L382.7 242.1L382.7 232.3L381.4 231.6Z"/><path class="et" d="M381.4 231.6L382.7 232.3L384.3 231.8L383 231Z"/>
<path class="e" d="M382.7 242.1L383.9 242.8L385.5 242.3L385.5 239.1L384.3 238.4L382.7 239Z"/><path class="el" d="M382.7 242.1L383.9 242.8L383.9 239.7L382.7 239Z"/><path class="et" d="M382.7 239L383.9 239.7L385.5 239.1L384.3 238.4Z"/>
<path class="e" d="M376.9 241.8L378.1 242.5L379.8 241.9L379.8 240.7L378.5 239.9L376.9 240.5Z"/><path class="el" d="M376.9 241.8L378.1 242.5L378.1 241.2L376.9 240.5Z"/><path class="et" d="M376.9 240.5L378.1 241.2L379.8 240.7L378.5 239.9Z"/>
<path class="e" d="M385.5 242.3L386.8 243L388.4 242.4L388.4 240.6L387.2 239.9L385.5 240.4Z"/><path class="el" d="M385.5 242.3L386.8 243L386.8 241.1L385.5 240.4Z"/><path class="et" d="M385.5 240.4L386.8 241.1L388.4 240.6L387.2 239.9Z"/>
<path class="e" d="M379.8 241.9L381 242.6L382.7 242.1L382.7 238L381.4 237.3L379.8 237.9Z"/><path class="el" d="M379.8 241.9L381 242.6L381 238.6L379.8 237.9Z"/><path class="et" d="M379.8 237.9L381 238.6L382.7 238L381.4 237.3Z"/>
<path class="e" d="M381 242.6L382.3 243.3L383.9 242.8L383.9 241.5L382.7 240.8L381 241.4Z"/><path class="el" d="M381 242.6L382.3 243.3L382.3 242.1L381 241.4Z"/><path class="et" d="M381 241.4L382.3 242.1L383.9 241.5L382.7 240.8Z"/>
<path d="M329.4 180.5L389.7 160.5M389.7 160.5L436.4 186.8M329.4 235.9L329.4 180.5M436.4 242.2L436.4 186.8M329.4 235.9L376.1 262.2M376.1 262.2L436.4 242.2M328.1 235.9h1.3M328.1 211.6h1.3M328.1 187.3h1.3M339.9 241.8L338.1 242.4M353.5 249.5L351.7 250.1M368.2 257.8L366.4 258.4M387 258.6L388.4 259.4M405.6 252.4L407 253.2M424.9 246L426.3 246.8" stroke="#2a2a2a" stroke-width="0.9" fill="none"/>
<text class="s" x="327.6" y="237.77" font-size="5.2" text-anchor="end">0</text>
<text class="s" x="327.6" y="213.47" font-size="5.2" text-anchor="end">50</text>
<text class="s" x="327.6" y="189.18" font-size="5.2" text-anchor="end">100</text>
<text class="s" x="332.6" y="248.67" font-size="5.2" text-anchor="middle">0.5</text>
<text class="s" x="349" y="256.67" font-size="5.2" text-anchor="middle">0</text>
<text class="s" x="360.8" y="264.77" font-size="5.2" text-anchor="middle">-0.5</text>
<text class="s" x="391.5" y="266.07" font-size="5.2" text-anchor="middle">0</text>
<text class="s" x="412.6" y="259.97" font-size="5.2" text-anchor="middle">0.5</text>
<text class="s" x="428.7" y="253.87" font-size="5.2" text-anchor="middle">1</text>
<text class="s" transform="translate(314.7,223) rotate(-90)" font-size="8.3">Number</text>
<text class="s" x="334.2" y="273.5" font-size="8.1">I<tspan font-size="6.9" dy="4">ϕ,α</tspan></text>
<text class="s" x="407.6" y="274.8" font-size="8.1">I<tspan font-size="6.9" dy="4">χ,k</tspan></text>
<text class="s" x="334" y="12.38" font-size="6.6" textLength="40.5"><tspan class="r" font-style="italic">σ</tspan><tspan font-size="6.27" dy="2.77">I</tspan><tspan font-size="4.36" dy="3.63" font-style="italic">χ,k</tspan><tspan dy="-6.4">=</tspan><tspan class="r" font-style="italic">σ</tspan><tspan font-size="6.27" dy="2.77">I</tspan><tspan font-size="4.36" dy="3.63" font-style="italic">ϕ,α</tspan><tspan dy="-6.4">=</tspan>0.2</text>
<text class="s" x="329.7" y="164.48" font-size="6.6" textLength="45.3"><tspan class="r" font-style="italic">σ</tspan><tspan font-size="6.27" dy="2.77">I</tspan><tspan font-size="4.36" dy="3.63" font-style="italic">χ,k</tspan><tspan dy="-6.4">=</tspan><tspan class="r" font-style="italic">σ</tspan><tspan font-size="6.27" dy="2.77">I</tspan><tspan font-size="4.36" dy="3.63" font-style="italic">ϕ,α</tspan><tspan dy="-6.4">=</tspan>0.05</text>
<rect x="1" y="282" width="1.2" height="1.2" fill="#6a7a50"/>
</svg>
</body></html>
